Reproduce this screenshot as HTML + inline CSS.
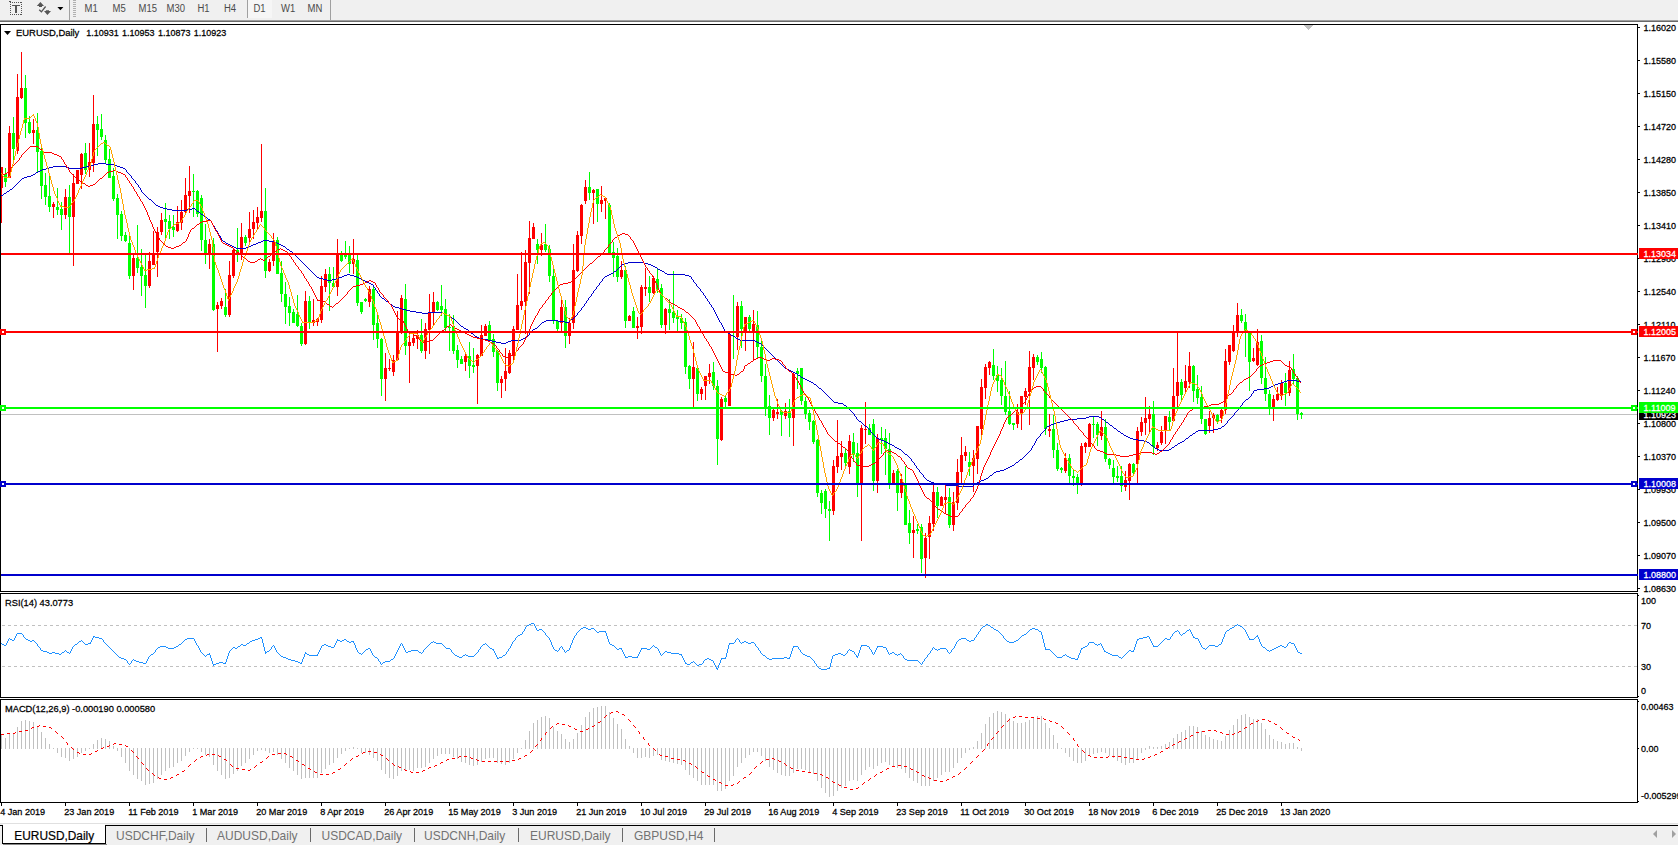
<!DOCTYPE html><html><head><meta charset="utf-8"><title>EURUSD,Daily</title>
<style>html,body{margin:0;padding:0;background:#fff;overflow:hidden}svg{display:block}text{font-family:"Liberation Sans",sans-serif;font-size:9px;fill:#000;stroke:#000;stroke-width:0.25px;paint-order:stroke}.tb{fill:#4a4a4a;stroke:none;font-size:9.5px}.tab{font-size:12px;fill:#727272;stroke:none}.ce{shape-rendering:crispEdges}</style></head><body>
<svg width="1678" height="845" viewBox="0 0 1678 845">
<rect width="1678" height="845" fill="#fff"/>
<g class="ce">
<rect x="0" y="0" width="1678" height="20" fill="#f0f0f0"/>
<rect x="0" y="20" width="1678" height="1" fill="#a0a0a0"/>
<rect x="0" y="21" width="1678" height="1" fill="#696969"/>
<rect x="0" y="22" width="1678" height="2" fill="#fff"/>
<rect x="69" y="0" width="1" height="20" fill="#a0a0a0"/>
<rect x="73" y="0" width="3" height="1" fill="#b0b0b0"/>
<rect x="73" y="2" width="3" height="1" fill="#b0b0b0"/>
<rect x="73" y="4" width="3" height="1" fill="#b0b0b0"/>
<rect x="73" y="6" width="3" height="1" fill="#b0b0b0"/>
<rect x="73" y="8" width="3" height="1" fill="#b0b0b0"/>
<rect x="73" y="10" width="3" height="1" fill="#b0b0b0"/>
<rect x="73" y="12" width="3" height="1" fill="#b0b0b0"/>
<rect x="73" y="14" width="3" height="1" fill="#b0b0b0"/>
<rect x="73" y="16" width="3" height="1" fill="#b0b0b0"/>
<rect x="247" y="0" width="1" height="18" fill="#a0a0a0"/>
<rect x="248" y="0" width="24" height="18" fill="#f6f6f6"/>
<rect x="330" y="0" width="1" height="20" fill="#a0a0a0"/>
</g>
<g fill="#555">
<rect class="ce" x="10" y="2" width="1" height="1"/>
<rect class="ce" x="10" y="14" width="1" height="1"/>
<rect class="ce" x="12" y="2" width="1" height="1"/>
<rect class="ce" x="12" y="14" width="1" height="1"/>
<rect class="ce" x="14" y="2" width="1" height="1"/>
<rect class="ce" x="14" y="14" width="1" height="1"/>
<rect class="ce" x="16" y="2" width="1" height="1"/>
<rect class="ce" x="16" y="14" width="1" height="1"/>
<rect class="ce" x="18" y="2" width="1" height="1"/>
<rect class="ce" x="18" y="14" width="1" height="1"/>
<rect class="ce" x="20" y="2" width="1" height="1"/>
<rect class="ce" x="20" y="14" width="1" height="1"/>
<rect class="ce" x="10" y="2" width="1" height="1"/>
<rect class="ce" x="21" y="2" width="1" height="1"/>
<rect class="ce" x="10" y="4" width="1" height="1"/>
<rect class="ce" x="21" y="4" width="1" height="1"/>
<rect class="ce" x="10" y="6" width="1" height="1"/>
<rect class="ce" x="21" y="6" width="1" height="1"/>
<rect class="ce" x="10" y="8" width="1" height="1"/>
<rect class="ce" x="21" y="8" width="1" height="1"/>
<rect class="ce" x="10" y="10" width="1" height="1"/>
<rect class="ce" x="21" y="10" width="1" height="1"/>
<rect class="ce" x="10" y="12" width="1" height="1"/>
<rect class="ce" x="21" y="12" width="1" height="1"/>
<rect class="ce" x="10" y="14" width="1" height="1"/>
<rect class="ce" x="21" y="14" width="1" height="1"/>
<rect class="ce" x="12" y="5" width="8" height="1"/><rect class="ce" x="15" y="5" width="2" height="8"/>
<path d="M36.8 6.1 L40.4 1.9 L44 6.1 L42 6.1 L42 7 L39 7 L39 6.1 Z"/><path d="M44 11.1 L45.9 11.1 L45.9 10.2 L49 10.2 L49 11.1 L51 11.1 L47.4 15.1 Z"/>
<rect class="ce" x="9" y="1" width="2" height="1"/>
<path d="M39.2 9.8 L41.4 11.8 L45.6 6.5" fill="none" stroke="#555" stroke-width="1.3"/>
<path d="M57.4 7 L63.4 7 L60.4 10.2 Z" fill="#000"/>
</g>
<text class="tb" transform="translate(84.5,12) scale(1,1.1)">M1</text>
<text class="tb" transform="translate(112.5,12) scale(1,1.1)">M5</text>
<text class="tb" transform="translate(138.5,12) scale(1,1.1)">M15</text>
<text class="tb" transform="translate(166.5,12) scale(1,1.1)">M30</text>
<text class="tb" transform="translate(197.5,12) scale(1,1.1)">H1</text>
<text class="tb" transform="translate(224,12) scale(1,1.1)">H4</text>
<text class="tb" transform="translate(253.5,12) scale(1,1.1)">D1</text>
<text class="tb" transform="translate(281,12) scale(1,1.1)">W1</text>
<text class="tb" transform="translate(307.5,12) scale(1,1.1)">MN</text>
<g class="ce" fill="#000">
<rect x="0" y="24" width="1638" height="1"/>
<rect x="0" y="24" width="1" height="568"/>
<rect x="0" y="591" width="1638" height="1"/>
<rect x="1637" y="24" width="1" height="568"/>
<rect x="0" y="593" width="1638" height="1"/>
<rect x="0" y="593" width="1" height="105"/>
<rect x="0" y="697" width="1638" height="1"/>
<rect x="1637" y="593" width="1" height="105"/>
<rect x="0" y="699" width="1638" height="1"/>
<rect x="0" y="699" width="1" height="104"/>
<rect x="0" y="802" width="1638" height="1"/>
<rect x="1637" y="699" width="1" height="104"/>
</g>
<g class="ce">
<rect x="1638" y="27" width="2" height="1" fill="#000"/>
<rect x="1638" y="60" width="2" height="1" fill="#000"/>
<rect x="1638" y="93" width="2" height="1" fill="#000"/>
<rect x="1638" y="126" width="2" height="1" fill="#000"/>
<rect x="1638" y="159" width="2" height="1" fill="#000"/>
<rect x="1638" y="192" width="2" height="1" fill="#000"/>
<rect x="1638" y="225" width="2" height="1" fill="#000"/>
<rect x="1638" y="258" width="2" height="1" fill="#000"/>
<rect x="1638" y="291" width="2" height="1" fill="#000"/>
<rect x="1638" y="324" width="2" height="1" fill="#000"/>
<rect x="1638" y="357" width="2" height="1" fill="#000"/>
<rect x="1638" y="390" width="2" height="1" fill="#000"/>
<rect x="1638" y="423" width="2" height="1" fill="#000"/>
<rect x="1638" y="456" width="2" height="1" fill="#000"/>
<rect x="1638" y="489" width="2" height="1" fill="#000"/>
<rect x="1638" y="522" width="2" height="1" fill="#000"/>
<rect x="1638" y="555" width="2" height="1" fill="#000"/>
<rect x="1638" y="588" width="2" height="1" fill="#000"/>
</g>
<text transform="translate(1643.6,31) scale(1,1.04)">1.16020</text>
<text transform="translate(1643.6,64) scale(1,1.04)">1.15580</text>
<text transform="translate(1643.6,97) scale(1,1.04)">1.15150</text>
<text transform="translate(1643.6,130) scale(1,1.04)">1.14720</text>
<text transform="translate(1643.6,163) scale(1,1.04)">1.14280</text>
<text transform="translate(1643.6,196) scale(1,1.04)">1.13850</text>
<text transform="translate(1643.6,229) scale(1,1.04)">1.13410</text>
<text transform="translate(1643.6,262) scale(1,1.04)">1.12980</text>
<text transform="translate(1643.6,295) scale(1,1.04)">1.12540</text>
<text transform="translate(1643.6,328) scale(1,1.04)">1.12110</text>
<text transform="translate(1643.6,361) scale(1,1.04)">1.11670</text>
<text transform="translate(1643.6,394) scale(1,1.04)">1.11240</text>
<text transform="translate(1643.6,427) scale(1,1.04)">1.10800</text>
<text transform="translate(1643.6,460) scale(1,1.04)">1.10370</text>
<text transform="translate(1643.6,493) scale(1,1.04)">1.09930</text>
<text transform="translate(1643.6,526) scale(1,1.04)">1.09500</text>
<text transform="translate(1643.6,559) scale(1,1.04)">1.09070</text>
<text transform="translate(1643.6,592) scale(1,1.04)">1.08630</text>
<g class="ce">
<rect x="1" y="803" width="1" height="3" fill="#000"/>
<rect x="65" y="803" width="1" height="3" fill="#000"/>
<rect x="129" y="803" width="1" height="3" fill="#000"/>
<rect x="193" y="803" width="1" height="3" fill="#000"/>
<rect x="257" y="803" width="1" height="3" fill="#000"/>
<rect x="321" y="803" width="1" height="3" fill="#000"/>
<rect x="385" y="803" width="1" height="3" fill="#000"/>
<rect x="449" y="803" width="1" height="3" fill="#000"/>
<rect x="513" y="803" width="1" height="3" fill="#000"/>
<rect x="577" y="803" width="1" height="3" fill="#000"/>
<rect x="641" y="803" width="1" height="3" fill="#000"/>
<rect x="705" y="803" width="1" height="3" fill="#000"/>
<rect x="769" y="803" width="1" height="3" fill="#000"/>
<rect x="833" y="803" width="1" height="3" fill="#000"/>
<rect x="897" y="803" width="1" height="3" fill="#000"/>
<rect x="961" y="803" width="1" height="3" fill="#000"/>
<rect x="1025" y="803" width="1" height="3" fill="#000"/>
<rect x="1089" y="803" width="1" height="3" fill="#000"/>
<rect x="1153" y="803" width="1" height="3" fill="#000"/>
<rect x="1217" y="803" width="1" height="3" fill="#000"/>
<rect x="1281" y="803" width="1" height="3" fill="#000"/>
</g>
<text style="font-size:9.1px" transform="translate(0.2,814.7) scale(1,1.04)">4 Jan 2019</text>
<text style="font-size:9.1px" transform="translate(64.2,814.7) scale(1,1.04)">23 Jan 2019</text>
<text style="font-size:9.1px" transform="translate(128.2,814.7) scale(1,1.04)">11 Feb 2019</text>
<text style="font-size:9.1px" transform="translate(192.2,814.7) scale(1,1.04)">1 Mar 2019</text>
<text style="font-size:9.1px" transform="translate(256.2,814.7) scale(1,1.04)">20 Mar 2019</text>
<text style="font-size:9.1px" transform="translate(320.2,814.7) scale(1,1.04)">8 Apr 2019</text>
<text style="font-size:9.1px" transform="translate(384.2,814.7) scale(1,1.04)">26 Apr 2019</text>
<text style="font-size:9.1px" transform="translate(448.2,814.7) scale(1,1.04)">15 May 2019</text>
<text style="font-size:9.1px" transform="translate(512.2,814.7) scale(1,1.04)">3 Jun 2019</text>
<text style="font-size:9.1px" transform="translate(576.2,814.7) scale(1,1.04)">21 Jun 2019</text>
<text style="font-size:9.1px" transform="translate(640.2,814.7) scale(1,1.04)">10 Jul 2019</text>
<text style="font-size:9.1px" transform="translate(704.2,814.7) scale(1,1.04)">29 Jul 2019</text>
<text style="font-size:9.1px" transform="translate(768.2,814.7) scale(1,1.04)">16 Aug 2019</text>
<text style="font-size:9.1px" transform="translate(832.2,814.7) scale(1,1.04)">4 Sep 2019</text>
<text style="font-size:9.1px" transform="translate(896.2,814.7) scale(1,1.04)">23 Sep 2019</text>
<text style="font-size:9.1px" transform="translate(960.2,814.7) scale(1,1.04)">11 Oct 2019</text>
<text style="font-size:9.1px" transform="translate(1024.2,814.7) scale(1,1.04)">30 Oct 2019</text>
<text style="font-size:9.1px" transform="translate(1088.2,814.7) scale(1,1.04)">18 Nov 2019</text>
<text style="font-size:9.1px" transform="translate(1152.2,814.7) scale(1,1.04)">6 Dec 2019</text>
<text style="font-size:9.1px" transform="translate(1216.2,814.7) scale(1,1.04)">25 Dec 2019</text>
<text style="font-size:9.1px" transform="translate(1280.2,814.7) scale(1,1.04)">13 Jan 2020</text>
<g class="ce" fill="#000">
<rect x="1638" y="595" width="1" height="1"/>
<rect x="1638" y="696" width="1" height="1"/>
<rect x="1638" y="701" width="1" height="1"/>
<rect x="1638" y="748" width="1" height="1"/>
<rect x="1638" y="801" width="1" height="1"/>
</g>
<text transform="translate(1641,604) scale(1,1.04)">100</text>
<text transform="translate(1641,629) scale(1,1.04)">70</text>
<text transform="translate(1641,670) scale(1,1.04)">30</text>
<text transform="translate(1641,694) scale(1,1.04)">0</text>
<text transform="translate(1641,710) scale(1,1.04)">0.00463</text>
<text transform="translate(1641,752) scale(1,1.04)">0.00</text>
<text transform="translate(1641,799) scale(1,1.04)">-0.005299</text>
<g class="ce">
<line x1="2" y1="625.5" x2="1637" y2="625.5" stroke="#c0c0c0" stroke-width="1" stroke-dasharray="3 3"/>
<line x1="2" y1="666.5" x2="1637" y2="666.5" stroke="#c0c0c0" stroke-width="1" stroke-dasharray="3 3"/>
</g>
<text style="font-size:9.3px" transform="translate(5,605.5) scale(1,1.04)">RSI(14) 43.0773</text>
<text style="font-size:9.3px" transform="translate(5,711.5) scale(1,1.04)">MACD(12,26,9) -0.000190 0.000580</text>
<path d="M4 31 L11 31 L7.5 35 Z" fill="#000"/>
<text style="font-size:9.42px" transform="translate(16,36) scale(1,1.04)">EURUSD,Daily</text>
<text transform="translate(86.20,36) scale(1,1.04)">1.10931</text>
<text transform="translate(122.05,36) scale(1,1.04)">1.10953</text>
<text transform="translate(157.90,36) scale(1,1.04)">1.10873</text>
<text transform="translate(193.75,36) scale(1,1.04)">1.10923</text>
<g class="ce" fill="#c0c0c0"><rect x="1304" y="25" width="9" height="1"/><rect x="1305" y="26" width="7" height="1"/><rect x="1306" y="27" width="5" height="1"/><rect x="1307" y="28" width="3" height="1"/><rect x="1308" y="29" width="1" height="1"/></g>
<defs><clipPath id="cm"><rect x="1" y="25" width="1636" height="566"/></clipPath><clipPath id="cr"><rect x="1" y="594" width="1636" height="103"/></clipPath><clipPath id="cd"><rect x="1" y="700" width="1636" height="102"/></clipPath></defs>
<g class="ce"><rect x="1" y="414" width="1636" height="1" fill="#c0c0c0"/></g>
<g class="ce" clip-path="url(#cm)"><rect x="1" y="167" width="1" height="56" fill="#ff0000"/><rect x="0" y="167" width="3" height="21" fill="#ff0000"/><rect x="5" y="168" width="1" height="19" fill="#00ff00"/><rect x="4" y="174" width="3" height="8" fill="#00ff00"/><rect x="9" y="126" width="1" height="52" fill="#ff0000"/><rect x="8" y="133" width="3" height="45" fill="#ff0000"/><rect x="13" y="117" width="1" height="46" fill="#00ff00"/><rect x="12" y="133" width="3" height="16" fill="#00ff00"/><rect x="17" y="74" width="1" height="80" fill="#ff0000"/><rect x="16" y="97" width="3" height="54" fill="#ff0000"/><rect x="21" y="52" width="1" height="47" fill="#ff0000"/><rect x="20" y="88" width="3" height="10" fill="#ff0000"/><rect x="25" y="75" width="1" height="63" fill="#00ff00"/><rect x="24" y="88" width="3" height="35" fill="#00ff00"/><rect x="29" y="116" width="1" height="18" fill="#00ff00"/><rect x="28" y="122" width="3" height="11" fill="#00ff00"/><rect x="33" y="119" width="1" height="25" fill="#ff0000"/><rect x="32" y="130" width="3" height="3" fill="#ff0000"/><rect x="37" y="113" width="1" height="59" fill="#00ff00"/><rect x="36" y="130" width="3" height="22" fill="#00ff00"/><rect x="41" y="148" width="1" height="51" fill="#00ff00"/><rect x="40" y="151" width="3" height="35" fill="#00ff00"/><rect x="45" y="173" width="1" height="32" fill="#00ff00"/><rect x="44" y="185" width="3" height="12" fill="#00ff00"/><rect x="49" y="176" width="1" height="36" fill="#00ff00"/><rect x="48" y="196" width="3" height="11" fill="#00ff00"/><rect x="53" y="202" width="1" height="16" fill="#ff0000"/><rect x="52" y="204" width="3" height="3" fill="#ff0000"/><rect x="57" y="188" width="1" height="27" fill="#00ff00"/><rect x="56" y="207" width="3" height="3" fill="#00ff00"/><rect x="61" y="202" width="1" height="28" fill="#00ff00"/><rect x="60" y="209" width="3" height="6" fill="#00ff00"/><rect x="65" y="189" width="1" height="30" fill="#ff0000"/><rect x="64" y="197" width="3" height="18" fill="#ff0000"/><rect x="69" y="185" width="1" height="68" fill="#00ff00"/><rect x="68" y="197" width="3" height="20" fill="#00ff00"/><rect x="73" y="174" width="1" height="92" fill="#ff0000"/><rect x="72" y="183" width="3" height="34" fill="#ff0000"/><rect x="77" y="170" width="1" height="14" fill="#ff0000"/><rect x="76" y="170" width="3" height="14" fill="#ff0000"/><rect x="81" y="153" width="1" height="36" fill="#ff0000"/><rect x="80" y="154" width="3" height="21" fill="#ff0000"/><rect x="85" y="143" width="1" height="31" fill="#00ff00"/><rect x="84" y="153" width="3" height="17" fill="#00ff00"/><rect x="89" y="143" width="1" height="34" fill="#ff0000"/><rect x="88" y="162" width="3" height="8" fill="#ff0000"/><rect x="93" y="95" width="1" height="77" fill="#ff0000"/><rect x="92" y="124" width="3" height="39" fill="#ff0000"/><rect x="97" y="116" width="1" height="40" fill="#00ff00"/><rect x="96" y="124" width="3" height="6" fill="#00ff00"/><rect x="101" y="114" width="1" height="26" fill="#00ff00"/><rect x="100" y="129" width="3" height="8" fill="#00ff00"/><rect x="105" y="135" width="1" height="28" fill="#00ff00"/><rect x="104" y="140" width="3" height="20" fill="#00ff00"/><rect x="109" y="149" width="1" height="29" fill="#00ff00"/><rect x="108" y="159" width="3" height="19" fill="#00ff00"/><rect x="113" y="168" width="1" height="33" fill="#00ff00"/><rect x="112" y="176" width="3" height="23" fill="#00ff00"/><rect x="117" y="194" width="1" height="45" fill="#00ff00"/><rect x="116" y="198" width="3" height="17" fill="#00ff00"/><rect x="121" y="211" width="1" height="30" fill="#00ff00"/><rect x="120" y="214" width="3" height="22" fill="#00ff00"/><rect x="125" y="232" width="1" height="10" fill="#00ff00"/><rect x="124" y="235" width="3" height="6" fill="#00ff00"/><rect x="129" y="235" width="1" height="44" fill="#00ff00"/><rect x="128" y="243" width="3" height="33" fill="#00ff00"/><rect x="133" y="254" width="1" height="36" fill="#ff0000"/><rect x="132" y="258" width="3" height="18" fill="#ff0000"/><rect x="137" y="225" width="1" height="48" fill="#00ff00"/><rect x="136" y="258" width="3" height="10" fill="#00ff00"/><rect x="141" y="249" width="1" height="47" fill="#00ff00"/><rect x="140" y="267" width="3" height="9" fill="#00ff00"/><rect x="145" y="255" width="1" height="53" fill="#00ff00"/><rect x="144" y="275" width="3" height="11" fill="#00ff00"/><rect x="149" y="252" width="1" height="36" fill="#ff0000"/><rect x="148" y="261" width="3" height="25" fill="#ff0000"/><rect x="153" y="231" width="1" height="34" fill="#ff0000"/><rect x="152" y="253" width="3" height="12" fill="#ff0000"/><rect x="157" y="227" width="1" height="50" fill="#ff0000"/><rect x="156" y="232" width="3" height="20" fill="#ff0000"/><rect x="161" y="213" width="1" height="22" fill="#ff0000"/><rect x="160" y="220" width="3" height="12" fill="#ff0000"/><rect x="165" y="203" width="1" height="36" fill="#00ff00"/><rect x="164" y="219" width="3" height="3" fill="#00ff00"/><rect x="169" y="215" width="1" height="24" fill="#00ff00"/><rect x="168" y="221" width="3" height="8" fill="#00ff00"/><rect x="173" y="215" width="1" height="22" fill="#00ff00"/><rect x="172" y="227" width="3" height="3" fill="#00ff00"/><rect x="177" y="206" width="1" height="26" fill="#ff0000"/><rect x="176" y="222" width="3" height="9" fill="#ff0000"/><rect x="181" y="200" width="1" height="30" fill="#ff0000"/><rect x="180" y="212" width="3" height="11" fill="#ff0000"/><rect x="185" y="178" width="1" height="36" fill="#ff0000"/><rect x="184" y="195" width="3" height="17" fill="#ff0000"/><rect x="189" y="166" width="1" height="47" fill="#ff0000"/><rect x="188" y="191" width="3" height="5" fill="#ff0000"/><rect x="193" y="174" width="1" height="43" fill="#00ff00"/><rect x="192" y="191" width="3" height="1" fill="#00ff00"/><rect x="197" y="190" width="1" height="27" fill="#00ff00"/><rect x="196" y="191" width="3" height="23" fill="#00ff00"/><rect x="201" y="195" width="1" height="56" fill="#00ff00"/><rect x="200" y="198" width="3" height="42" fill="#00ff00"/><rect x="205" y="224" width="1" height="40" fill="#00ff00"/><rect x="204" y="240" width="3" height="13" fill="#00ff00"/><rect x="209" y="239" width="1" height="30" fill="#ff0000"/><rect x="208" y="244" width="3" height="10" fill="#ff0000"/><rect x="213" y="238" width="1" height="73" fill="#00ff00"/><rect x="212" y="244" width="3" height="66" fill="#00ff00"/><rect x="217" y="302" width="1" height="50" fill="#ff0000"/><rect x="216" y="305" width="3" height="4" fill="#ff0000"/><rect x="221" y="298" width="1" height="11" fill="#ff0000"/><rect x="220" y="301" width="3" height="5" fill="#ff0000"/><rect x="225" y="289" width="1" height="28" fill="#00ff00"/><rect x="224" y="307" width="3" height="8" fill="#00ff00"/><rect x="229" y="261" width="1" height="56" fill="#ff0000"/><rect x="228" y="275" width="3" height="40" fill="#ff0000"/><rect x="233" y="248" width="1" height="30" fill="#ff0000"/><rect x="232" y="250" width="3" height="26" fill="#ff0000"/><rect x="237" y="228" width="1" height="34" fill="#00ff00"/><rect x="236" y="250" width="3" height="3" fill="#00ff00"/><rect x="241" y="223" width="1" height="37" fill="#ff0000"/><rect x="240" y="237" width="3" height="16" fill="#ff0000"/><rect x="245" y="235" width="1" height="11" fill="#00ff00"/><rect x="244" y="237" width="3" height="6" fill="#00ff00"/><rect x="249" y="212" width="1" height="31" fill="#ff0000"/><rect x="248" y="229" width="3" height="9" fill="#ff0000"/><rect x="253" y="210" width="1" height="29" fill="#ff0000"/><rect x="252" y="222" width="3" height="7" fill="#ff0000"/><rect x="257" y="207" width="1" height="22" fill="#ff0000"/><rect x="256" y="217" width="3" height="6" fill="#ff0000"/><rect x="261" y="144" width="1" height="78" fill="#ff0000"/><rect x="260" y="211" width="3" height="7" fill="#ff0000"/><rect x="265" y="188" width="1" height="90" fill="#00ff00"/><rect x="264" y="211" width="3" height="60" fill="#00ff00"/><rect x="269" y="259" width="1" height="13" fill="#ff0000"/><rect x="268" y="262" width="3" height="9" fill="#ff0000"/><rect x="273" y="233" width="1" height="33" fill="#ff0000"/><rect x="272" y="241" width="3" height="20" fill="#ff0000"/><rect x="277" y="237" width="1" height="37" fill="#00ff00"/><rect x="276" y="240" width="3" height="34" fill="#00ff00"/><rect x="281" y="261" width="1" height="41" fill="#00ff00"/><rect x="280" y="273" width="3" height="21" fill="#00ff00"/><rect x="285" y="282" width="1" height="42" fill="#00ff00"/><rect x="284" y="294" width="3" height="13" fill="#00ff00"/><rect x="289" y="297" width="1" height="29" fill="#00ff00"/><rect x="288" y="306" width="3" height="7" fill="#00ff00"/><rect x="293" y="309" width="1" height="14" fill="#00ff00"/><rect x="292" y="312" width="3" height="11" fill="#00ff00"/><rect x="297" y="295" width="1" height="32" fill="#00ff00"/><rect x="296" y="314" width="3" height="12" fill="#00ff00"/><rect x="301" y="323" width="1" height="23" fill="#00ff00"/><rect x="300" y="326" width="3" height="18" fill="#00ff00"/><rect x="305" y="291" width="1" height="54" fill="#ff0000"/><rect x="304" y="301" width="3" height="43" fill="#ff0000"/><rect x="309" y="296" width="1" height="33" fill="#00ff00"/><rect x="308" y="301" width="3" height="21" fill="#00ff00"/><rect x="313" y="299" width="1" height="27" fill="#ff0000"/><rect x="312" y="320" width="3" height="3" fill="#ff0000"/><rect x="317" y="318" width="1" height="8" fill="#ff0000"/><rect x="316" y="319" width="3" height="3" fill="#ff0000"/><rect x="321" y="276" width="1" height="47" fill="#ff0000"/><rect x="320" y="286" width="3" height="34" fill="#ff0000"/><rect x="325" y="269" width="1" height="23" fill="#ff0000"/><rect x="324" y="274" width="3" height="13" fill="#ff0000"/><rect x="329" y="267" width="1" height="44" fill="#00ff00"/><rect x="328" y="274" width="3" height="9" fill="#00ff00"/><rect x="333" y="267" width="1" height="21" fill="#00ff00"/><rect x="332" y="283" width="3" height="4" fill="#00ff00"/><rect x="337" y="239" width="1" height="57" fill="#ff0000"/><rect x="336" y="254" width="3" height="33" fill="#ff0000"/><rect x="341" y="251" width="1" height="11" fill="#00ff00"/><rect x="340" y="255" width="3" height="6" fill="#00ff00"/><rect x="345" y="241" width="1" height="18" fill="#00ff00"/><rect x="344" y="255" width="3" height="2" fill="#00ff00"/><rect x="349" y="246" width="1" height="27" fill="#00ff00"/><rect x="348" y="255" width="3" height="9" fill="#00ff00"/><rect x="353" y="239" width="1" height="35" fill="#ff0000"/><rect x="352" y="259" width="3" height="5" fill="#ff0000"/><rect x="357" y="255" width="1" height="51" fill="#00ff00"/><rect x="356" y="260" width="3" height="43" fill="#00ff00"/><rect x="361" y="302" width="1" height="12" fill="#00ff00"/><rect x="360" y="302" width="3" height="10" fill="#00ff00"/><rect x="365" y="298" width="1" height="4" fill="#00ff00"/><rect x="364" y="299" width="3" height="2" fill="#00ff00"/><rect x="369" y="286" width="1" height="21" fill="#ff0000"/><rect x="368" y="289" width="3" height="13" fill="#ff0000"/><rect x="373" y="287" width="1" height="53" fill="#00ff00"/><rect x="372" y="289" width="3" height="36" fill="#00ff00"/><rect x="377" y="314" width="1" height="34" fill="#00ff00"/><rect x="376" y="323" width="3" height="16" fill="#00ff00"/><rect x="381" y="338" width="1" height="58" fill="#00ff00"/><rect x="380" y="339" width="3" height="40" fill="#00ff00"/><rect x="385" y="353" width="1" height="48" fill="#ff0000"/><rect x="384" y="368" width="3" height="11" fill="#ff0000"/><rect x="389" y="359" width="1" height="12" fill="#ff0000"/><rect x="388" y="368" width="3" height="1" fill="#ff0000"/><rect x="393" y="355" width="1" height="21" fill="#ff0000"/><rect x="392" y="360" width="3" height="12" fill="#ff0000"/><rect x="397" y="311" width="1" height="49" fill="#ff0000"/><rect x="396" y="333" width="3" height="27" fill="#ff0000"/><rect x="401" y="295" width="1" height="39" fill="#ff0000"/><rect x="400" y="298" width="3" height="33" fill="#ff0000"/><rect x="405" y="284" width="1" height="71" fill="#00ff00"/><rect x="404" y="299" width="3" height="47" fill="#00ff00"/><rect x="409" y="333" width="1" height="50" fill="#ff0000"/><rect x="408" y="342" width="3" height="4" fill="#ff0000"/><rect x="413" y="333" width="1" height="13" fill="#ff0000"/><rect x="412" y="338" width="3" height="5" fill="#ff0000"/><rect x="417" y="330" width="1" height="19" fill="#ff0000"/><rect x="416" y="335" width="3" height="4" fill="#ff0000"/><rect x="421" y="319" width="1" height="34" fill="#00ff00"/><rect x="420" y="335" width="3" height="16" fill="#00ff00"/><rect x="425" y="323" width="1" height="36" fill="#ff0000"/><rect x="424" y="329" width="3" height="22" fill="#ff0000"/><rect x="429" y="294" width="1" height="60" fill="#ff0000"/><rect x="428" y="313" width="3" height="17" fill="#ff0000"/><rect x="433" y="292" width="1" height="33" fill="#ff0000"/><rect x="432" y="302" width="3" height="11" fill="#ff0000"/><rect x="437" y="301" width="1" height="10" fill="#00ff00"/><rect x="436" y="302" width="3" height="8" fill="#00ff00"/><rect x="441" y="285" width="1" height="31" fill="#00ff00"/><rect x="440" y="306" width="3" height="4" fill="#00ff00"/><rect x="445" y="299" width="1" height="32" fill="#00ff00"/><rect x="444" y="309" width="3" height="19" fill="#00ff00"/><rect x="449" y="314" width="1" height="37" fill="#00ff00"/><rect x="448" y="327" width="3" height="1" fill="#00ff00"/><rect x="453" y="315" width="1" height="39" fill="#00ff00"/><rect x="452" y="326" width="3" height="25" fill="#00ff00"/><rect x="457" y="345" width="1" height="23" fill="#00ff00"/><rect x="456" y="350" width="3" height="10" fill="#00ff00"/><rect x="461" y="356" width="1" height="8" fill="#00ff00"/><rect x="460" y="359" width="3" height="5" fill="#00ff00"/><rect x="465" y="353" width="1" height="18" fill="#ff0000"/><rect x="464" y="356" width="3" height="6" fill="#ff0000"/><rect x="469" y="342" width="1" height="36" fill="#00ff00"/><rect x="468" y="356" width="3" height="10" fill="#00ff00"/><rect x="473" y="348" width="1" height="25" fill="#00ff00"/><rect x="472" y="365" width="3" height="2" fill="#00ff00"/><rect x="477" y="354" width="1" height="50" fill="#ff0000"/><rect x="476" y="355" width="3" height="11" fill="#ff0000"/><rect x="481" y="325" width="1" height="31" fill="#ff0000"/><rect x="480" y="335" width="3" height="21" fill="#ff0000"/><rect x="485" y="324" width="1" height="12" fill="#ff0000"/><rect x="484" y="326" width="3" height="10" fill="#ff0000"/><rect x="489" y="321" width="1" height="20" fill="#00ff00"/><rect x="488" y="325" width="3" height="16" fill="#00ff00"/><rect x="493" y="334" width="1" height="23" fill="#00ff00"/><rect x="492" y="339" width="3" height="13" fill="#00ff00"/><rect x="497" y="350" width="1" height="41" fill="#00ff00"/><rect x="496" y="351" width="3" height="32" fill="#00ff00"/><rect x="501" y="376" width="1" height="22" fill="#ff0000"/><rect x="500" y="379" width="3" height="4" fill="#ff0000"/><rect x="505" y="348" width="1" height="43" fill="#ff0000"/><rect x="504" y="371" width="3" height="8" fill="#ff0000"/><rect x="509" y="350" width="1" height="24" fill="#ff0000"/><rect x="508" y="353" width="3" height="20" fill="#ff0000"/><rect x="513" y="326" width="1" height="37" fill="#ff0000"/><rect x="512" y="329" width="3" height="27" fill="#ff0000"/><rect x="517" y="274" width="1" height="56" fill="#ff0000"/><rect x="516" y="305" width="3" height="25" fill="#ff0000"/><rect x="521" y="252" width="1" height="58" fill="#ff0000"/><rect x="520" y="301" width="3" height="5" fill="#ff0000"/><rect x="525" y="250" width="1" height="84" fill="#ff0000"/><rect x="524" y="262" width="3" height="40" fill="#ff0000"/><rect x="529" y="221" width="1" height="73" fill="#ff0000"/><rect x="528" y="238" width="3" height="25" fill="#ff0000"/><rect x="533" y="223" width="1" height="16" fill="#ff0000"/><rect x="532" y="227" width="3" height="12" fill="#ff0000"/><rect x="537" y="239" width="1" height="25" fill="#00ff00"/><rect x="536" y="244" width="3" height="6" fill="#00ff00"/><rect x="541" y="233" width="1" height="23" fill="#ff0000"/><rect x="540" y="245" width="3" height="5" fill="#ff0000"/><rect x="545" y="224" width="1" height="28" fill="#00ff00"/><rect x="544" y="244" width="3" height="6" fill="#00ff00"/><rect x="549" y="245" width="1" height="37" fill="#00ff00"/><rect x="548" y="249" width="3" height="27" fill="#00ff00"/><rect x="553" y="265" width="1" height="59" fill="#00ff00"/><rect x="552" y="276" width="3" height="45" fill="#00ff00"/><rect x="557" y="320" width="1" height="11" fill="#00ff00"/><rect x="556" y="321" width="3" height="8" fill="#00ff00"/><rect x="561" y="299" width="1" height="32" fill="#ff0000"/><rect x="560" y="307" width="3" height="16" fill="#ff0000"/><rect x="565" y="300" width="1" height="48" fill="#00ff00"/><rect x="564" y="307" width="3" height="29" fill="#00ff00"/><rect x="569" y="318" width="1" height="26" fill="#ff0000"/><rect x="568" y="323" width="3" height="13" fill="#ff0000"/><rect x="573" y="244" width="1" height="85" fill="#ff0000"/><rect x="572" y="270" width="3" height="53" fill="#ff0000"/><rect x="577" y="231" width="1" height="41" fill="#ff0000"/><rect x="576" y="235" width="3" height="36" fill="#ff0000"/><rect x="581" y="204" width="1" height="40" fill="#ff0000"/><rect x="580" y="205" width="3" height="31" fill="#ff0000"/><rect x="585" y="180" width="1" height="24" fill="#ff0000"/><rect x="584" y="187" width="3" height="14" fill="#ff0000"/><rect x="589" y="172" width="1" height="28" fill="#00ff00"/><rect x="588" y="187" width="3" height="6" fill="#00ff00"/><rect x="593" y="189" width="1" height="35" fill="#ff0000"/><rect x="592" y="190" width="3" height="3" fill="#ff0000"/><rect x="597" y="189" width="1" height="33" fill="#00ff00"/><rect x="596" y="189" width="3" height="15" fill="#00ff00"/><rect x="601" y="186" width="1" height="26" fill="#ff0000"/><rect x="600" y="200" width="3" height="4" fill="#ff0000"/><rect x="605" y="198" width="1" height="21" fill="#ff0000"/><rect x="604" y="198" width="3" height="3" fill="#ff0000"/><rect x="609" y="203" width="1" height="50" fill="#00ff00"/><rect x="608" y="205" width="3" height="48" fill="#00ff00"/><rect x="613" y="242" width="1" height="35" fill="#00ff00"/><rect x="612" y="252" width="3" height="6" fill="#00ff00"/><rect x="617" y="248" width="1" height="34" fill="#00ff00"/><rect x="616" y="256" width="3" height="21" fill="#00ff00"/><rect x="621" y="261" width="1" height="18" fill="#ff0000"/><rect x="620" y="270" width="3" height="7" fill="#ff0000"/><rect x="625" y="266" width="1" height="62" fill="#00ff00"/><rect x="624" y="270" width="3" height="51" fill="#00ff00"/><rect x="629" y="315" width="1" height="6" fill="#ff0000"/><rect x="628" y="316" width="3" height="5" fill="#ff0000"/><rect x="633" y="307" width="1" height="21" fill="#00ff00"/><rect x="632" y="311" width="3" height="17" fill="#00ff00"/><rect x="637" y="317" width="1" height="22" fill="#ff0000"/><rect x="636" y="326" width="3" height="2" fill="#ff0000"/><rect x="641" y="285" width="1" height="49" fill="#ff0000"/><rect x="640" y="287" width="3" height="40" fill="#ff0000"/><rect x="645" y="268" width="1" height="28" fill="#ff0000"/><rect x="644" y="287" width="3" height="2" fill="#ff0000"/><rect x="649" y="276" width="1" height="26" fill="#00ff00"/><rect x="648" y="287" width="3" height="6" fill="#00ff00"/><rect x="653" y="276" width="1" height="18" fill="#ff0000"/><rect x="652" y="278" width="3" height="15" fill="#ff0000"/><rect x="657" y="269" width="1" height="24" fill="#00ff00"/><rect x="656" y="279" width="3" height="10" fill="#00ff00"/><rect x="661" y="284" width="1" height="44" fill="#00ff00"/><rect x="660" y="288" width="3" height="37" fill="#00ff00"/><rect x="665" y="308" width="1" height="26" fill="#ff0000"/><rect x="664" y="309" width="3" height="16" fill="#ff0000"/><rect x="669" y="299" width="1" height="31" fill="#00ff00"/><rect x="668" y="309" width="3" height="4" fill="#00ff00"/><rect x="673" y="271" width="1" height="52" fill="#00ff00"/><rect x="672" y="312" width="3" height="6" fill="#00ff00"/><rect x="677" y="310" width="1" height="21" fill="#00ff00"/><rect x="676" y="316" width="3" height="3" fill="#00ff00"/><rect x="681" y="314" width="1" height="15" fill="#00ff00"/><rect x="680" y="318" width="3" height="5" fill="#00ff00"/><rect x="685" y="318" width="1" height="56" fill="#00ff00"/><rect x="684" y="322" width="3" height="45" fill="#00ff00"/><rect x="689" y="365" width="1" height="24" fill="#00ff00"/><rect x="688" y="366" width="3" height="13" fill="#00ff00"/><rect x="693" y="342" width="1" height="65" fill="#ff0000"/><rect x="692" y="367" width="3" height="12" fill="#ff0000"/><rect x="697" y="366" width="1" height="35" fill="#00ff00"/><rect x="696" y="368" width="3" height="26" fill="#00ff00"/><rect x="701" y="387" width="1" height="13" fill="#ff0000"/><rect x="700" y="389" width="3" height="5" fill="#ff0000"/><rect x="705" y="376" width="1" height="24" fill="#ff0000"/><rect x="704" y="376" width="3" height="10" fill="#ff0000"/><rect x="709" y="364" width="1" height="20" fill="#ff0000"/><rect x="708" y="373" width="3" height="4" fill="#ff0000"/><rect x="713" y="362" width="1" height="28" fill="#00ff00"/><rect x="712" y="372" width="3" height="14" fill="#00ff00"/><rect x="717" y="380" width="1" height="85" fill="#00ff00"/><rect x="716" y="386" width="3" height="53" fill="#00ff00"/><rect x="721" y="397" width="1" height="44" fill="#ff0000"/><rect x="720" y="399" width="3" height="41" fill="#ff0000"/><rect x="725" y="396" width="1" height="11" fill="#00ff00"/><rect x="724" y="398" width="3" height="4" fill="#00ff00"/><rect x="729" y="333" width="1" height="73" fill="#ff0000"/><rect x="728" y="334" width="3" height="72" fill="#ff0000"/><rect x="733" y="295" width="1" height="64" fill="#00ff00"/><rect x="732" y="331" width="3" height="2" fill="#00ff00"/><rect x="737" y="302" width="1" height="48" fill="#ff0000"/><rect x="736" y="306" width="3" height="31" fill="#ff0000"/><rect x="741" y="301" width="1" height="47" fill="#00ff00"/><rect x="740" y="306" width="3" height="23" fill="#00ff00"/><rect x="745" y="317" width="1" height="34" fill="#ff0000"/><rect x="744" y="317" width="3" height="14" fill="#ff0000"/><rect x="749" y="315" width="1" height="16" fill="#00ff00"/><rect x="748" y="317" width="3" height="12" fill="#00ff00"/><rect x="753" y="310" width="1" height="50" fill="#ff0000"/><rect x="752" y="324" width="3" height="7" fill="#ff0000"/><rect x="757" y="311" width="1" height="47" fill="#00ff00"/><rect x="756" y="325" width="3" height="22" fill="#00ff00"/><rect x="761" y="341" width="1" height="41" fill="#00ff00"/><rect x="760" y="347" width="3" height="29" fill="#00ff00"/><rect x="765" y="364" width="1" height="52" fill="#00ff00"/><rect x="764" y="376" width="3" height="32" fill="#00ff00"/><rect x="769" y="395" width="1" height="40" fill="#00ff00"/><rect x="768" y="406" width="3" height="12" fill="#00ff00"/><rect x="773" y="409" width="1" height="12" fill="#ff0000"/><rect x="772" y="410" width="3" height="8" fill="#ff0000"/><rect x="777" y="399" width="1" height="20" fill="#ff0000"/><rect x="776" y="412" width="3" height="2" fill="#ff0000"/><rect x="781" y="410" width="1" height="26" fill="#00ff00"/><rect x="780" y="411" width="3" height="4" fill="#00ff00"/><rect x="785" y="403" width="1" height="16" fill="#ff0000"/><rect x="784" y="411" width="3" height="5" fill="#ff0000"/><rect x="789" y="399" width="1" height="38" fill="#00ff00"/><rect x="788" y="411" width="3" height="7" fill="#00ff00"/><rect x="793" y="373" width="1" height="73" fill="#ff0000"/><rect x="792" y="374" width="3" height="44" fill="#ff0000"/><rect x="797" y="368" width="1" height="21" fill="#00ff00"/><rect x="796" y="371" width="3" height="3" fill="#00ff00"/><rect x="801" y="368" width="1" height="37" fill="#00ff00"/><rect x="800" y="368" width="3" height="33" fill="#00ff00"/><rect x="805" y="397" width="1" height="22" fill="#00ff00"/><rect x="804" y="401" width="3" height="13" fill="#00ff00"/><rect x="809" y="410" width="1" height="20" fill="#00ff00"/><rect x="808" y="413" width="3" height="9" fill="#00ff00"/><rect x="813" y="420" width="1" height="24" fill="#00ff00"/><rect x="812" y="421" width="3" height="21" fill="#00ff00"/><rect x="817" y="439" width="1" height="58" fill="#00ff00"/><rect x="816" y="440" width="3" height="53" fill="#00ff00"/><rect x="821" y="490" width="1" height="24" fill="#00ff00"/><rect x="820" y="493" width="3" height="10" fill="#00ff00"/><rect x="825" y="489" width="1" height="29" fill="#00ff00"/><rect x="824" y="491" width="3" height="18" fill="#00ff00"/><rect x="829" y="501" width="1" height="40" fill="#00ff00"/><rect x="828" y="509" width="3" height="2" fill="#00ff00"/><rect x="833" y="460" width="1" height="55" fill="#ff0000"/><rect x="832" y="466" width="3" height="45" fill="#ff0000"/><rect x="837" y="420" width="1" height="53" fill="#ff0000"/><rect x="836" y="456" width="3" height="11" fill="#ff0000"/><rect x="841" y="441" width="1" height="29" fill="#ff0000"/><rect x="840" y="453" width="3" height="4" fill="#ff0000"/><rect x="845" y="449" width="1" height="18" fill="#00ff00"/><rect x="844" y="453" width="3" height="10" fill="#00ff00"/><rect x="849" y="435" width="1" height="39" fill="#ff0000"/><rect x="848" y="441" width="3" height="26" fill="#ff0000"/><rect x="853" y="433" width="1" height="29" fill="#00ff00"/><rect x="852" y="442" width="3" height="12" fill="#00ff00"/><rect x="857" y="443" width="1" height="54" fill="#00ff00"/><rect x="856" y="453" width="3" height="30" fill="#00ff00"/><rect x="861" y="425" width="1" height="116" fill="#ff0000"/><rect x="860" y="428" width="3" height="55" fill="#ff0000"/><rect x="865" y="402" width="1" height="42" fill="#ff0000"/><rect x="864" y="429" width="3" height="1" fill="#ff0000"/><rect x="869" y="424" width="1" height="11" fill="#00ff00"/><rect x="868" y="428" width="3" height="7" fill="#00ff00"/><rect x="873" y="419" width="1" height="72" fill="#00ff00"/><rect x="872" y="424" width="3" height="57" fill="#00ff00"/><rect x="877" y="434" width="1" height="59" fill="#ff0000"/><rect x="876" y="438" width="3" height="43" fill="#ff0000"/><rect x="881" y="427" width="1" height="27" fill="#00ff00"/><rect x="880" y="438" width="3" height="2" fill="#00ff00"/><rect x="885" y="429" width="1" height="46" fill="#00ff00"/><rect x="884" y="438" width="3" height="11" fill="#00ff00"/><rect x="889" y="433" width="1" height="56" fill="#00ff00"/><rect x="888" y="449" width="3" height="34" fill="#00ff00"/><rect x="893" y="470" width="1" height="13" fill="#ff0000"/><rect x="892" y="473" width="3" height="10" fill="#ff0000"/><rect x="897" y="469" width="1" height="42" fill="#00ff00"/><rect x="896" y="471" width="3" height="22" fill="#00ff00"/><rect x="901" y="474" width="1" height="24" fill="#ff0000"/><rect x="900" y="479" width="3" height="14" fill="#ff0000"/><rect x="905" y="466" width="1" height="59" fill="#00ff00"/><rect x="904" y="483" width="3" height="42" fill="#00ff00"/><rect x="909" y="510" width="1" height="34" fill="#00ff00"/><rect x="908" y="523" width="3" height="10" fill="#00ff00"/><rect x="913" y="516" width="1" height="42" fill="#ff0000"/><rect x="912" y="530" width="3" height="3" fill="#ff0000"/><rect x="917" y="524" width="1" height="10" fill="#00ff00"/><rect x="916" y="529" width="3" height="2" fill="#00ff00"/><rect x="921" y="524" width="1" height="49" fill="#00ff00"/><rect x="920" y="527" width="3" height="32" fill="#00ff00"/><rect x="925" y="533" width="1" height="45" fill="#ff0000"/><rect x="924" y="538" width="3" height="20" fill="#ff0000"/><rect x="929" y="516" width="1" height="43" fill="#ff0000"/><rect x="928" y="523" width="3" height="14" fill="#ff0000"/><rect x="933" y="484" width="1" height="47" fill="#ff0000"/><rect x="932" y="492" width="3" height="32" fill="#ff0000"/><rect x="937" y="487" width="1" height="31" fill="#00ff00"/><rect x="936" y="492" width="3" height="14" fill="#00ff00"/><rect x="941" y="496" width="1" height="10" fill="#ff0000"/><rect x="940" y="497" width="3" height="9" fill="#ff0000"/><rect x="945" y="484" width="1" height="30" fill="#ff0000"/><rect x="944" y="497" width="3" height="3" fill="#ff0000"/><rect x="949" y="488" width="1" height="40" fill="#00ff00"/><rect x="948" y="497" width="3" height="28" fill="#00ff00"/><rect x="953" y="492" width="1" height="39" fill="#ff0000"/><rect x="952" y="502" width="3" height="23" fill="#ff0000"/><rect x="957" y="459" width="1" height="51" fill="#ff0000"/><rect x="956" y="472" width="3" height="31" fill="#ff0000"/><rect x="961" y="437" width="1" height="46" fill="#ff0000"/><rect x="960" y="455" width="3" height="17" fill="#ff0000"/><rect x="965" y="446" width="1" height="15" fill="#ff0000"/><rect x="964" y="452" width="3" height="4" fill="#ff0000"/><rect x="969" y="452" width="1" height="24" fill="#00ff00"/><rect x="968" y="462" width="3" height="5" fill="#00ff00"/><rect x="973" y="450" width="1" height="42" fill="#ff0000"/><rect x="972" y="458" width="3" height="8" fill="#ff0000"/><rect x="977" y="426" width="1" height="48" fill="#ff0000"/><rect x="976" y="426" width="3" height="33" fill="#ff0000"/><rect x="981" y="379" width="1" height="57" fill="#ff0000"/><rect x="980" y="387" width="3" height="42" fill="#ff0000"/><rect x="985" y="364" width="1" height="35" fill="#ff0000"/><rect x="984" y="367" width="3" height="21" fill="#ff0000"/><rect x="989" y="361" width="1" height="14" fill="#ff0000"/><rect x="988" y="362" width="3" height="6" fill="#ff0000"/><rect x="993" y="349" width="1" height="31" fill="#00ff00"/><rect x="992" y="365" width="3" height="11" fill="#00ff00"/><rect x="997" y="366" width="1" height="26" fill="#00ff00"/><rect x="996" y="375" width="3" height="6" fill="#00ff00"/><rect x="1001" y="368" width="1" height="37" fill="#00ff00"/><rect x="1000" y="380" width="3" height="16" fill="#00ff00"/><rect x="1005" y="361" width="1" height="54" fill="#00ff00"/><rect x="1004" y="396" width="3" height="16" fill="#00ff00"/><rect x="1009" y="391" width="1" height="34" fill="#00ff00"/><rect x="1008" y="411" width="3" height="13" fill="#00ff00"/><rect x="1013" y="423" width="1" height="7" fill="#00ff00"/><rect x="1012" y="423" width="3" height="2" fill="#00ff00"/><rect x="1017" y="404" width="1" height="24" fill="#ff0000"/><rect x="1016" y="412" width="3" height="12" fill="#ff0000"/><rect x="1021" y="396" width="1" height="34" fill="#ff0000"/><rect x="1020" y="396" width="3" height="18" fill="#ff0000"/><rect x="1025" y="388" width="1" height="17" fill="#ff0000"/><rect x="1024" y="391" width="3" height="6" fill="#ff0000"/><rect x="1029" y="351" width="1" height="74" fill="#ff0000"/><rect x="1028" y="367" width="3" height="25" fill="#ff0000"/><rect x="1033" y="354" width="1" height="26" fill="#ff0000"/><rect x="1032" y="357" width="3" height="11" fill="#ff0000"/><rect x="1037" y="355" width="1" height="10" fill="#00ff00"/><rect x="1036" y="357" width="3" height="5" fill="#00ff00"/><rect x="1041" y="352" width="1" height="21" fill="#00ff00"/><rect x="1040" y="359" width="3" height="9" fill="#00ff00"/><rect x="1045" y="366" width="1" height="69" fill="#00ff00"/><rect x="1044" y="367" width="3" height="62" fill="#00ff00"/><rect x="1049" y="414" width="1" height="23" fill="#ff0000"/><rect x="1048" y="429" width="3" height="2" fill="#ff0000"/><rect x="1053" y="415" width="1" height="43" fill="#00ff00"/><rect x="1052" y="429" width="3" height="21" fill="#00ff00"/><rect x="1057" y="443" width="1" height="28" fill="#00ff00"/><rect x="1056" y="450" width="3" height="19" fill="#00ff00"/><rect x="1061" y="467" width="1" height="6" fill="#00ff00"/><rect x="1060" y="468" width="3" height="2" fill="#00ff00"/><rect x="1065" y="453" width="1" height="20" fill="#ff0000"/><rect x="1064" y="458" width="3" height="13" fill="#ff0000"/><rect x="1069" y="454" width="1" height="30" fill="#00ff00"/><rect x="1068" y="458" width="3" height="18" fill="#00ff00"/><rect x="1073" y="469" width="1" height="17" fill="#00ff00"/><rect x="1072" y="476" width="3" height="2" fill="#00ff00"/><rect x="1077" y="474" width="1" height="20" fill="#00ff00"/><rect x="1076" y="477" width="3" height="7" fill="#00ff00"/><rect x="1081" y="443" width="1" height="43" fill="#ff0000"/><rect x="1080" y="446" width="3" height="38" fill="#ff0000"/><rect x="1085" y="442" width="1" height="11" fill="#ff0000"/><rect x="1084" y="443" width="3" height="4" fill="#ff0000"/><rect x="1089" y="423" width="1" height="24" fill="#ff0000"/><rect x="1088" y="424" width="3" height="23" fill="#ff0000"/><rect x="1093" y="417" width="1" height="21" fill="#00ff00"/><rect x="1092" y="424" width="3" height="1" fill="#00ff00"/><rect x="1097" y="422" width="1" height="24" fill="#00ff00"/><rect x="1096" y="424" width="3" height="11" fill="#00ff00"/><rect x="1101" y="411" width="1" height="29" fill="#ff0000"/><rect x="1100" y="427" width="3" height="9" fill="#ff0000"/><rect x="1105" y="419" width="1" height="43" fill="#00ff00"/><rect x="1104" y="427" width="3" height="32" fill="#00ff00"/><rect x="1109" y="458" width="1" height="11" fill="#00ff00"/><rect x="1108" y="459" width="3" height="6" fill="#00ff00"/><rect x="1113" y="460" width="1" height="24" fill="#00ff00"/><rect x="1112" y="468" width="3" height="9" fill="#00ff00"/><rect x="1117" y="466" width="1" height="16" fill="#00ff00"/><rect x="1116" y="476" width="3" height="2" fill="#00ff00"/><rect x="1121" y="466" width="1" height="26" fill="#00ff00"/><rect x="1120" y="476" width="3" height="10" fill="#00ff00"/><rect x="1125" y="471" width="1" height="20" fill="#ff0000"/><rect x="1124" y="480" width="3" height="7" fill="#ff0000"/><rect x="1129" y="463" width="1" height="37" fill="#ff0000"/><rect x="1128" y="464" width="3" height="17" fill="#ff0000"/><rect x="1133" y="463" width="1" height="13" fill="#00ff00"/><rect x="1132" y="464" width="3" height="9" fill="#00ff00"/><rect x="1137" y="427" width="1" height="57" fill="#ff0000"/><rect x="1136" y="431" width="3" height="33" fill="#ff0000"/><rect x="1141" y="417" width="1" height="19" fill="#ff0000"/><rect x="1140" y="422" width="3" height="10" fill="#ff0000"/><rect x="1145" y="397" width="1" height="38" fill="#ff0000"/><rect x="1144" y="418" width="3" height="5" fill="#ff0000"/><rect x="1149" y="406" width="1" height="28" fill="#ff0000"/><rect x="1148" y="414" width="3" height="5" fill="#ff0000"/><rect x="1153" y="401" width="1" height="54" fill="#00ff00"/><rect x="1152" y="414" width="3" height="33" fill="#00ff00"/><rect x="1157" y="442" width="1" height="9" fill="#ff0000"/><rect x="1156" y="445" width="3" height="3" fill="#ff0000"/><rect x="1161" y="426" width="1" height="19" fill="#ff0000"/><rect x="1160" y="432" width="3" height="11" fill="#ff0000"/><rect x="1165" y="416" width="1" height="28" fill="#ff0000"/><rect x="1164" y="416" width="3" height="15" fill="#ff0000"/><rect x="1169" y="411" width="1" height="20" fill="#00ff00"/><rect x="1168" y="417" width="3" height="5" fill="#00ff00"/><rect x="1173" y="368" width="1" height="53" fill="#ff0000"/><rect x="1172" y="396" width="3" height="25" fill="#ff0000"/><rect x="1177" y="332" width="1" height="75" fill="#ff0000"/><rect x="1176" y="382" width="3" height="14" fill="#ff0000"/><rect x="1181" y="379" width="1" height="21" fill="#00ff00"/><rect x="1180" y="382" width="3" height="13" fill="#00ff00"/><rect x="1185" y="365" width="1" height="28" fill="#ff0000"/><rect x="1184" y="381" width="3" height="7" fill="#ff0000"/><rect x="1189" y="352" width="1" height="36" fill="#ff0000"/><rect x="1188" y="366" width="3" height="16" fill="#ff0000"/><rect x="1193" y="365" width="1" height="37" fill="#00ff00"/><rect x="1192" y="366" width="3" height="25" fill="#00ff00"/><rect x="1197" y="375" width="1" height="29" fill="#00ff00"/><rect x="1196" y="389" width="3" height="9" fill="#00ff00"/><rect x="1201" y="386" width="1" height="38" fill="#00ff00"/><rect x="1200" y="397" width="3" height="22" fill="#00ff00"/><rect x="1205" y="419" width="1" height="16" fill="#00ff00"/><rect x="1204" y="419" width="3" height="15" fill="#00ff00"/><rect x="1209" y="411" width="1" height="22" fill="#ff0000"/><rect x="1208" y="418" width="3" height="8" fill="#ff0000"/><rect x="1213" y="413" width="1" height="20" fill="#ff0000"/><rect x="1212" y="415" width="3" height="3" fill="#ff0000"/><rect x="1217" y="414" width="1" height="10" fill="#00ff00"/><rect x="1216" y="415" width="3" height="6" fill="#00ff00"/><rect x="1221" y="409" width="1" height="14" fill="#ff0000"/><rect x="1220" y="410" width="3" height="8" fill="#ff0000"/><rect x="1225" y="349" width="1" height="65" fill="#ff0000"/><rect x="1224" y="361" width="3" height="49" fill="#ff0000"/><rect x="1229" y="345" width="1" height="20" fill="#ff0000"/><rect x="1228" y="345" width="3" height="17" fill="#ff0000"/><rect x="1233" y="325" width="1" height="27" fill="#ff0000"/><rect x="1232" y="331" width="3" height="20" fill="#ff0000"/><rect x="1237" y="303" width="1" height="34" fill="#ff0000"/><rect x="1236" y="315" width="3" height="16" fill="#ff0000"/><rect x="1241" y="309" width="1" height="14" fill="#00ff00"/><rect x="1240" y="315" width="3" height="6" fill="#00ff00"/><rect x="1245" y="314" width="1" height="43" fill="#00ff00"/><rect x="1244" y="322" width="3" height="11" fill="#00ff00"/><rect x="1249" y="333" width="1" height="58" fill="#00ff00"/><rect x="1248" y="333" width="3" height="29" fill="#00ff00"/><rect x="1253" y="348" width="1" height="14" fill="#ff0000"/><rect x="1252" y="358" width="3" height="3" fill="#ff0000"/><rect x="1257" y="329" width="1" height="37" fill="#ff0000"/><rect x="1256" y="342" width="3" height="23" fill="#ff0000"/><rect x="1261" y="335" width="1" height="49" fill="#00ff00"/><rect x="1260" y="341" width="3" height="37" fill="#00ff00"/><rect x="1265" y="357" width="1" height="44" fill="#00ff00"/><rect x="1264" y="378" width="3" height="16" fill="#00ff00"/><rect x="1269" y="390" width="1" height="25" fill="#00ff00"/><rect x="1268" y="394" width="3" height="14" fill="#00ff00"/><rect x="1273" y="395" width="1" height="26" fill="#ff0000"/><rect x="1272" y="399" width="3" height="8" fill="#ff0000"/><rect x="1277" y="387" width="1" height="14" fill="#ff0000"/><rect x="1276" y="394" width="3" height="6" fill="#ff0000"/><rect x="1281" y="380" width="1" height="20" fill="#ff0000"/><rect x="1280" y="383" width="3" height="13" fill="#ff0000"/><rect x="1285" y="373" width="1" height="33" fill="#00ff00"/><rect x="1284" y="383" width="3" height="10" fill="#00ff00"/><rect x="1289" y="361" width="1" height="35" fill="#ff0000"/><rect x="1288" y="370" width="3" height="23" fill="#ff0000"/><rect x="1293" y="354" width="1" height="31" fill="#00ff00"/><rect x="1292" y="369" width="3" height="10" fill="#00ff00"/><rect x="1297" y="376" width="1" height="44" fill="#00ff00"/><rect x="1296" y="378" width="3" height="36" fill="#00ff00"/><rect x="1301" y="412" width="1" height="7" fill="#00ff00"/><rect x="1300" y="413" width="3" height="2" fill="#00ff00"/></g>
<path class="ce" d="M221.5 238v2M1040.5 434v2M131.5 176v2M716.5 314v2M693.5 280v2M529.5 333v2M856.5 417v2M577.5 313v2M911.5 459v2M373.5 285v2M870.5 430v2M135.5 181v2M1036.5 439v2M588.5 298v2M599.5 283v2M1035.5 441v2M719.5 320v2M375.5 288v2M1031.5 448v2M1242.5 403v2M138.5 185v2M1034.5 443v2M718.5 318v2M211.5 221v2M722.5 325v2M212.5 223v2M215.5 228v2M696.5 284v2M707.5 299v2M140.5 188v2M593.5 291v2M217.5 231v2M854.5 414v2M709.5 302v2M1253.5 391v2M377.5 291v2M914.5 463v2M1032.5 446v2M379.5 294v2M214.5 226v2M1234.5 413v2M916.5 466v2M602.5 279v2M711.5 305v2M141.5 190v2M1045.5 428v2M581.5 308v2M596.5 287v2M721.5 323v2M713.5 308v2M923.5 475v2M126.5 170v2M703.5 293v2M1227.5 421v2M724.5 329v2M218.5 233v2M1239.5 407v2M584.5 304v2M705.5 296v2M723.5 327v2M220.5 236v2M715.5 312v2M919.5 470v2M586.5 301v2M1251.5 394v2M714.5 310v2M717.5 316v2M591.5 294v2M700.5 289v2M691.5 277v2M6 192.5h1M142 192.5h1M205 217.5h2M488 340.5h4M511 340.5h10M740 340.5h15M313 273.5h1M611 273.5h2M665 273.5h2M455 320.5h1M546 320.5h12M570 320.5h1M207 218.5h1M902 451.5h1M1029 451.5h1M1077 418.5h9M1101 418.5h1M1230 418.5h1M895 447.5h2M1154 447.5h1M1172 447.5h2M847 407.5h1M416 312.5h6M428 312.5h15M578 312.5h1M869 429.5h1M1116 429.5h1M1213 429.5h5M496 342.5h5M506 342.5h2M757 342.5h2M927 480.5h2M981 480.5h3M225 242.5h1M258 242.5h3M275 242.5h2M316 276.5h1M342 276.5h2M354 276.5h3M605 276.5h2M689 276.5h2M809 381.5h2M1284 381.5h3M1297 381.5h4M801 377.5h2M868 428.5h1M1114 428.5h2M1218 428.5h3M228 244.5h2M253 244.5h3M279 244.5h2M761 344.5h1M314 274.5h1M347 274.5h3M609 274.5h2M667 274.5h18M402 309.5h4M292 252.5h1M310 270.5h1M616 270.5h1M660 270.5h2M473 334.5h1M730 334.5h1M53 166.5h13M86 166.5h4M117 166.5h3M367 282.5h2M600 282.5h1M694 282.5h1M595 289.5h1M319 278.5h4M336 278.5h3M359 278.5h2M603 278.5h1M913 462.5h1M1016 462.5h2M449 316.5h2M575 316.5h1M201 214.5h2M307 267.5h1M619 267.5h1M655 267.5h2M929 481.5h2M979 481.5h2M234 247.5h2M246 247.5h2M285 247.5h1M897 448.5h2M1155 448.5h2M1171 448.5h1M226 243.5h2M256 243.5h2M277 243.5h2M890 444.5h2M1150 444.5h1M1177 444.5h1M909 457.5h1M1023 457.5h1M874 435.5h1M1124 435.5h2M1190 435.5h2M223 241.5h2M261 241.5h2M269 241.5h6M315 275.5h1M344 275.5h3M350 275.5h4M607 275.5h2M685 275.5h4M454 319.5h1M571 319.5h2M46 168.5h3M69 168.5h13M123 168.5h2M881 440.5h3M1138 440.5h6M1184 440.5h1M996 471.5h4M172 210.5h15M196 210.5h1M924 477.5h1M988 477.5h1M317 277.5h2M339 277.5h3M357 277.5h2M604 277.5h1M492 341.5h4M508 341.5h3M755 341.5h2M876 437.5h1M1038 437.5h1M1128 437.5h2M1188 437.5h1M767 350.5h1M456 321.5h1M544 321.5h2M558 321.5h7M569 321.5h1M12 188.5h1M864 425.5h1M1049 425.5h2M1110 425.5h2M1224 425.5h1M877 438.5h2M1037 438.5h1M1130 438.5h3M1186 438.5h2M768 351.5h1M36 172.5h2M127 172.5h1M892 445.5h2M1033 445.5h1M1151 445.5h2M1175 445.5h2M1044 430.5h1M1117 430.5h1M1198 430.5h15M98 163.5h8M483 339.5h5M521 339.5h2M738 339.5h2M236 248.5h10M286 248.5h1M469 331.5h1M531 331.5h1M725 331.5h2M904 453.5h1M1027 453.5h1M905 454.5h2M1026 454.5h1M19 181.5h1M867 427.5h1M1046 427.5h1M1113 427.5h1M1221 427.5h1M302 262.5h1M628 262.5h16M850 410.5h1M1237 410.5h1M16 184.5h1M137 184.5h1M858 420.5h1M1064 420.5h4M1104 420.5h1M1228 420.5h1M861 422.5h1M1056 422.5h4M1106 422.5h2M1043 431.5h1M1118 431.5h2M1196 431.5h2M327 280.5h5M363 280.5h2M1086 417.5h3M1099 417.5h2M1231 417.5h1M395 307.5h4M582 307.5h1M712 307.5h1M990 475.5h2M294 254.5h1M1010 466.5h2M452 318.5h2M573 318.5h1M312 272.5h1M613 272.5h1M664 272.5h1M901 450.5h1M1030 450.5h1M1159 450.5h10M167 209.5h5M187 209.5h5M195 209.5h1M917 468.5h1M1006 468.5h2M879 439.5h2M1133 439.5h5M1185 439.5h1M922 474.5h1M992 474.5h1M863 424.5h1M1051 424.5h3M1109 424.5h1M1225 424.5h1M822 390.5h1M1254 390.5h3M303 263.5h1M624 263.5h4M644 263.5h4M828 396.5h1M1250 396.5h1M859 421.5h2M1060 421.5h4M1105 421.5h1M770 353.5h1M410 311.5h6M579 311.5h1M301 261.5h1M311 271.5h1M614 271.5h2M662 271.5h2M447 315.5h2M576 315.5h1M309 269.5h1M617 269.5h1M658 269.5h2M290 251.5h2M471 333.5h2M728 333.5h2M365 281.5h2M601 281.5h1M3 194.5h1M144 194.5h1M24 177.5h3M222 240.5h1M263 240.5h6M888 443.5h2M1149 443.5h1M1178 443.5h2M838 403.5h5M821 389.5h1M1257 389.5h7M776 359.5h1M42 169.5h4M125 169.5h1M862 423.5h1M1054 423.5h2M1108 423.5h1M1226 423.5h1M872 433.5h1M1041 433.5h1M1121 433.5h2M1193 433.5h2M777 360.5h1M17 183.5h1M136 183.5h1M479 338.5h4M523 338.5h2M736 338.5h2M306 266.5h1M620 266.5h1M653 266.5h2M865 426.5h2M1047 426.5h2M1112 426.5h1M1222 426.5h2M90 165.5h4M114 165.5h3M807 380.5h2M1287 380.5h10M817 386.5h1M1271 386.5h2M873 434.5h1M1123 434.5h1M1192 434.5h1M855 416.5h1M1089 416.5h10M1232 416.5h1M9 190.5h1M958 486.5h15M374 287.5h1M698 287.5h1M376 290.5h1M594 290.5h1M378 293.5h1M592 293.5h1M871 432.5h1M1042 432.5h1M1120 432.5h1M1195 432.5h1M811 382.5h2M1281 382.5h3M385 300.5h1M587 300.5h1M466 329.5h2M533 329.5h2M805 379.5h2M38 171.5h2M422 313.5h6M443 313.5h2M474 335.5h1M528 335.5h1M731 335.5h2M813 383.5h1M1278 383.5h3M35 173.5h1M128 173.5h1M829 397.5h1M1249 397.5h1M406 310.5h4M580 310.5h1M464 328.5h2M535 328.5h2M475 336.5h2M527 336.5h1M733 336.5h2M946 485.5h12M973 485.5h1M445 314.5h2M304 264.5h1M622 264.5h2M648 264.5h3M934 483.5h4M976 483.5h1M844 405.5h2M1241 405.5h1M926 479.5h1M984 479.5h2M857 419.5h1M1068 419.5h9M1102 419.5h2M1229 419.5h1M886 442.5h2M1147 442.5h2M1180 442.5h2M884 441.5h2M1144 441.5h3M1182 441.5h2M501 343.5h5M759 343.5h2M793 372.5h2M305 265.5h1M621 265.5h1M651 265.5h2M459 324.5h1M540 324.5h1M323 279.5h4M332 279.5h4M361 279.5h2M692 279.5h1M477 337.5h2M525 337.5h2M735 337.5h1M460 325.5h1M539 325.5h1M907 455.5h1M1025 455.5h1M908 456.5h1M1024 456.5h1M852 412.5h1M1235 412.5h1M766 349.5h1M13 187.5h1M139 187.5h1M297 257.5h1M1 195.5h2M145 195.5h1M903 452.5h1M1028 452.5h1M931 482.5h3M977 482.5h2M899 449.5h2M1157 449.5h2M1169 449.5h2M772 355.5h1M773 356.5h1M10 189.5h2M461 326.5h2M538 326.5h1M894 446.5h1M1153 446.5h1M1174 446.5h1M457 322.5h1M542 322.5h2M565 322.5h4M720 322.5h1M798 375.5h2M386 301.5h2M708 301.5h1M49 167.5h4M66 167.5h3M82 167.5h4M120 167.5h3M393 306.5h2M583 306.5h1M299 259.5h1M308 268.5h1M618 268.5h1M657 268.5h1M819 388.5h2M1264 388.5h5M230 245.5h2M251 245.5h2M281 245.5h2M468 330.5h1M532 330.5h1M774 357.5h1M875 436.5h1M1039 436.5h1M1126 436.5h2M1189 436.5h1M775 358.5h1M830 398.5h1M1248 398.5h1M925 478.5h1M986 478.5h2M27 176.5h4M22 178.5h2M132 178.5h1M912 461.5h1M1018 461.5h1M826 394.5h1M814 384.5h2M1275 384.5h3M827 395.5h1M920 472.5h1M994 472.5h2M781 364.5h1M938 484.5h8M974 484.5h2M388 302.5h1M848 408.5h1M795 373.5h2M597 286.5h1M697 286.5h1M816 385.5h1M1273 385.5h2M7 191.5h2M451 317.5h1M574 317.5h1M915 465.5h1M1012 465.5h2M382 298.5h2M706 298.5h1M463 327.5h1M537 327.5h1M910 458.5h1M1022 458.5h1M843 404.5h1M783 366.5h1M784 367.5h1M146 196.5h1M458 323.5h1M541 323.5h1M390 304.5h2M710 304.5h1M153 202.5h1M832 400.5h1M1245 400.5h1M399 308.5h3M800 376.5h1M825 393.5h1M1252 393.5h1M771 354.5h1M1015 463.5h1M216 230.5h1M381 297.5h1M589 297.5h1M823 391.5h1M787 369.5h2M797 374.5h1M789 370.5h2M598 285.5h1M918 469.5h1M1004 469.5h2M818 387.5h1M1269 387.5h2M163 208.5h4M192 208.5h3M33 174.5h2M129 174.5h1M470 332.5h1M530 332.5h1M727 332.5h1M824 392.5h1M1000 470.5h4M834 402.5h4M1243 402.5h1M369 283.5h2M695 283.5h1M779 362.5h1M780 363.5h1M14 186.5h1M831 399.5h1M1246 399.5h2M846 406.5h1M1240 406.5h1M40 170.5h2M785 368.5h2M160 207.5h3M287 249.5h2M197 211.5h2M94 164.5h4M106 164.5h8M31 175.5h2M130 175.5h1M782 365.5h1M1014 464.5h1M232 246.5h2M248 246.5h3M283 246.5h2M849 409.5h1M1238 409.5h1M833 401.5h1M1244 401.5h1M803 378.5h2M151 200.5h1M389 303.5h1M585 303.5h1M699 288.5h1M791 371.5h2M1020 459.5h2M147 197.5h1M21 179.5h1M133 179.5h1M921 473.5h1M993 473.5h1M210 220.5h1M701 291.5h1M764 347.5h1M20 180.5h1M134 180.5h1M702 292.5h1M778 361.5h1M1019 460.5h1M384 299.5h1M15 185.5h1M158 206.5h2M380 296.5h1M590 296.5h1M851 411.5h1M1236 411.5h1M154 203.5h1M4 193.5h2M143 193.5h1M155 204.5h1M293 253.5h1M1233 415.5h1M149 199.5h2M371 284.5h2M300 260.5h1M289 250.5h1M1008 467.5h2M853 413.5h1M156 205.5h2M208 219.5h2M392 305.5h1M762 345.5h1M763 346.5h1M203 215.5h1M204 216.5h1M18 182.5h1M769 352.5h1M989 476.5h1M199 212.5h1M200 213.5h1M765 348.5h1M295 255.5h1M296 256.5h1M152 201.5h1M213 225.5h1M704 295.5h1M148 198.5h1M298 258.5h1M219 235.5h1" stroke="#0000cd" stroke-width="1" fill="none"/>
<path class="ce" d="M383.5 295v2M989.5 455v2M1001.5 429v2M530.5 326v3M697.5 324v2M608.5 245v2M660.5 292v2M311.5 287v2M314.5 293v2M657.5 285v3M998.5 436v2M127.5 178v2M1184.5 418v2M638.5 251v2M288.5 253v2M901.5 458v2M303.5 274v2M1175.5 432v2M1073.5 421v2M545.5 301v2M152.5 224v3M919.5 484v2M744.5 366v3M856.5 463v2M630.5 237v2M997.5 438v2M190.5 230v2M634.5 243v2M934.5 504v2M524.5 340v2M1291.5 368v2M993.5 446v2M1005.5 420v2M1295.5 374v2M309.5 284v2M312.5 289v2M658.5 288v2M313.5 291v2M659.5 290v2M1094.5 446v2M743.5 369v2M539.5 309v2M1236.5 386v2M1170.5 440v2M800.5 385v2M189.5 232v2M535.5 316v2M523.5 342v2M1004.5 422v2M301.5 271v2M1003.5 424v3M531.5 324v2M395.5 313v2M818.5 416v2M147.5 212v3M821.5 421v2M219.5 236v2M406.5 327v2M154.5 229v2M959.5 513v2M61.5 157v2M1027.5 396v2M136.5 192v2M810.5 402v2M1293.5 371v2M139.5 197v2M719.5 363v2M1297.5 377v2M720.5 365v2M979.5 480v3M1049.5 396v2M986.5 461v2M914.5 473v2M496.5 346v2M802.5 389v2M499.5 350v2M527.5 333v3M921.5 488v2M799.5 383v2M379.5 290v2M819.5 418v2M397.5 317v2M221.5 240v2M394.5 311v2M649.5 271v2M977.5 486v3M653.5 277v2M1078.5 427v2M985.5 463v2M1173.5 435v2M63.5 160v2M526.5 336v2M808.5 398v2M718.5 361v2M213.5 225v2M641.5 257v2M142.5 202v2M1179.5 426v2M404.5 323v2M976.5 489v2M923.5 492v2M1029.5 392v2M69.5 170v2M392.5 307v2M186.5 239v2M1043.5 389v2M652.5 275v2M848.5 451v2M975.5 491v2M699.5 327v2M782.5 362v2M211.5 221v2M212.5 223v2M640.5 255v2M709.5 344v2M712.5 349v2M713.5 351v2M1256.5 369v2M850.5 454v2M701.5 331v2M315.5 295v2M149.5 217v3M304.5 276v2M906.5 465v2M156.5 233v2M883.5 453v2M711.5 347v2M981.5 473v3M812.5 406v2M965.5 505v2M722.5 369v2M21.5 155v2M916.5 477v2M1028.5 394v2M801.5 387v2M1233.5 390v2M992.5 448v2M291.5 257v2M396.5 315v2M822.5 423v2M155.5 231v2M158.5 236v2M1187.5 413v2M347.5 292v2M633.5 241v2M1183.5 420v2M388.5 301v2M140.5 199v2M814.5 409v2M215.5 229v2M811.5 404v2M915.5 475v2M1186.5 415v2M129.5 181v2M293.5 260v2M1177.5 429v2M978.5 483v3M538.5 311v2M64.5 162v2M642.5 259v2M534.5 318v2M217.5 232v2M214.5 227v2M10.5 168v2M913.5 471v2M1172.5 437v2M920.5 486v2M134.5 189v2M525.5 338v2M537.5 313v2M502.5 354v2M295.5 263v2M533.5 320v2M656.5 283v2M317.5 299v2M700.5 329v2M703.5 334v2M66.5 165v2M980.5 476v4M403.5 321v2M532.5 322v2M148.5 215v2M988.5 457v2M1000.5 431v3M984.5 465v2M922.5 490v2M654.5 279v2M987.5 459v2M999.5 434v2M1083.5 433v2M785.5 366v2M983.5 467v3M1181.5 423v2M542.5 305v2M974.5 493v2M982.5 470v3M635.5 245v2M994.5 444v2M1006.5 418v2M970.5 499v2M973.5 495v2M131.5 184v2M823.5 425v2M306.5 279v2M826.5 430v2M529.5 329v2M159.5 238v2M793.5 374v2M144.5 206v2M721.5 367v2M644.5 263v2M151.5 222v2M918.5 481v3M528.5 331v2M996.5 440v2M803.5 391v2M133.5 187v2M308.5 282v2M825.5 428v2M376.5 285v2M188.5 234v3M995.5 442v2M68.5 168v2M146.5 210v2M643.5 261v2M143.5 204v2M817.5 414v2M991.5 450v2M218.5 234v2M405.5 325v2M150.5 220v2M1030.5 390v2M924.5 494v2M1026.5 398v2M187.5 237v2M715.5 355v2M990.5 452v3M1002.5 427v2M612.5 240v2M604.5 250v2M704.5 336v2M375.5 283v2M378.5 288v2M393.5 309v2M1299.5 380v2M696.5 322v2M714.5 353v2M717.5 359v2M637.5 249v2M298.5 267v2M548.5 297v2M655.5 281v2M904.5 462v2M851.5 456v2M316.5 297v2M706.5 339v2M391.5 305v2M551.5 293v2M695.5 320v2M19.5 158v2M125.5 175v2M639.5 253v2M636.5 247v2M518.5 348v2M962.5 509v2M153.5 227v2M853.5 459v2M917.5 479v2M708.5 342v2M827.5 432v2M815.5 411v2M145.5 208v2M645.5 265v2M220.5 238v2M407.5 329v2M1088.5 439v2M137.5 194v2M1225.5 398v2M796.5 378v2M647.5 268v2M1169.5 442v2M806.5 395v2M809.5 400v2M716.5 357v2M798.5 381v2M1025.5 400v2M615 237.5h2M412 333.5h1M439 333.5h1M465 333.5h2M702 333.5h1M444 329.5h1M457 329.5h2M1044 391.5h1M168 247.5h3M174 247.5h2M231 247.5h2M607 247.5h1M735 375.5h2M1251 375.5h1M163 243.5h1M182 243.5h1M223 243.5h2M610 243.5h1M871 464.5h2M905 464.5h1M164 244.5h1M181 244.5h1M225 244.5h2M609 244.5h1M849 453.5h1M894 453.5h2M1105 453.5h2M1136 453.5h4M1152 453.5h3M1157 453.5h2M365 282.5h2M373 282.5h2M568 282.5h3M838 443.5h2M1091 443.5h1M1009 415.5h2M1067 415.5h1M1013 412.5h1M1064 412.5h1M1188 412.5h1M840 444.5h1M1092 444.5h1M1168 444.5h1M841 445.5h1M1093 445.5h1M1167 445.5h1M348 291.5h1M553 291.5h1M237 252.5h2M273 252.5h2M287 252.5h1M603 252.5h1M244 258.5h2M260 258.5h1M266 258.5h1M596 258.5h1M3 174.5h2M72 174.5h1M105 174.5h1M123 174.5h2M927 498.5h2M971 498.5h1M506 357.5h3M758 357.5h4M78 179.5h1M99 179.5h1M896 454.5h1M1107 454.5h9M1133 454.5h3M1155 454.5h2M318 300.5h5M340 300.5h1M387 300.5h1M546 300.5h1M668 300.5h1M447 326.5h2M452 326.5h2M698 326.5h1M239 253.5h1M272 253.5h1M602 253.5h1M414 335.5h2M437 335.5h1M469 335.5h2M833 439.5h1M1171 439.5h1M356 285.5h4M559 285.5h1M834 440.5h1M884 452.5h1M892 452.5h2M1103 452.5h2M1140 452.5h12M1159 452.5h1M1053 401.5h1M1223 401.5h1M847 450.5h1M886 450.5h2M1097 450.5h3M1162 450.5h1M166 246.5h2M176 246.5h3M229 246.5h2M753 360.5h1M767 360.5h3M779 360.5h2M1273 360.5h8M503 356.5h3M509 356.5h2M351 288.5h1M556 288.5h1M520 346.5h1M710 346.5h1M59 156.5h2M622 233.5h3M422 342.5h3M490 342.5h2M1022 404.5h1M1056 404.5h1M1211 404.5h8M419 339.5h1M433 339.5h1M481 339.5h4M944 513.5h2M207 220.5h4M73 175.5h1M104 175.5h1M878 459.5h1M305 278.5h1M575 278.5h1M1019 407.5h1M1059 407.5h1M1197 407.5h7M805 394.5h1M1047 394.5h1M1229 394.5h2M804 393.5h1M1046 393.5h1M1231 393.5h1M751 361.5h2M781 361.5h1M1270 361.5h3M1281 361.5h1M421 341.5h1M425 341.5h5M488 341.5h2M707 341.5h1M590 263.5h2M750 362.5h1M1267 362.5h3M1282 362.5h1M748 363.5h2M1264 363.5h3M1283 363.5h1M885 451.5h1M888 451.5h4M1100 451.5h3M1160 451.5h2M24 152.5h1M44 152.5h8M410 332.5h2M440 332.5h1M463 332.5h2M517 350.5h1M326 303.5h1M336 303.5h2M389 303.5h1M544 303.5h1M671 303.5h2M912 470.5h1M492 343.5h2M816 413.5h1M1012 413.5h1M1065 413.5h1M582 271.5h1M940 510.5h1M620 234.5h2M625 234.5h3M86 185.5h2M90 185.5h3M7 172.5h1M70 172.5h1M107 172.5h2M118 172.5h3M88 186.5h2M132 186.5h1M745 365.5h2M784 365.5h1M1260 365.5h2M1285 365.5h2M80 181.5h2M97 181.5h1M242 256.5h1M268 256.5h2M290 256.5h1M598 256.5h2M11 167.5h1M67 167.5h1M171 248.5h3M233 248.5h1M280 248.5h1M606 248.5h1M30 146.5h8M162 242.5h1M183 242.5h2M222 242.5h1M611 242.5h1M1034 387.5h2M1041 387.5h1M1015 410.5h2M1062 410.5h1M1190 410.5h2M327 304.5h2M335 304.5h1M390 304.5h1M543 304.5h1M673 304.5h2M843 447.5h2M1165 447.5h1M1079 429.5h1M857 465.5h5M869 465.5h2M1 173.5h2M5 173.5h2M71 173.5h1M106 173.5h1M121 173.5h2M18 160.5h1M936 507.5h1M964 507.5h1M754 359.5h2M764 359.5h3M770 359.5h2M775 359.5h4M342 298.5h1M385 298.5h1M665 298.5h2M1023 403.5h1M1055 403.5h1M1219 403.5h2M613 239.5h1M631 239.5h1M330 306.5h2M333 306.5h1M677 306.5h1M363 283.5h2M563 283.5h5M846 449.5h1M1096 449.5h1M1163 449.5h1M495 345.5h1M521 345.5h1M1258 367.5h1M1289 367.5h2M22 154.5h1M54 154.5h3M246 259.5h1M258 259.5h2M261 259.5h2M265 259.5h1M292 259.5h1M595 259.5h1M950 516.5h8M418 338.5h1M434 338.5h1M477 338.5h4M705 338.5h1M57 155.5h2M247 260.5h1M257 260.5h1M263 260.5h2M594 260.5h1M880 457.5h1M900 457.5h1M380 292.5h1M552 292.5h1M250 262.5h5M294 262.5h1M592 262.5h1M756 358.5h2M762 358.5h2M772 358.5h3M234 249.5h1M278 249.5h2M281 249.5h2M605 249.5h1M794 376.5h1M1250 376.5h1M1296 376.5h1M881 456.5h1M898 456.5h2M1120 456.5h9M302 273.5h1M580 273.5h1M650 273.5h1M408 331.5h2M441 331.5h1M461 331.5h2M1077 426.5h1M845 448.5h1M1095 448.5h1M1164 448.5h1M352 287.5h1M377 287.5h1M557 287.5h1M581 272.5h1M938 509.5h2M85 184.5h1M93 184.5h2M138 196.5h1M235 250.5h1M276 250.5h2M283 250.5h2M747 364.5h1M783 364.5h1M1262 364.5h2M1284 364.5h1M420 340.5h1M430 340.5h3M485 340.5h3M344 296.5h1M549 296.5h1M663 296.5h1M165 245.5h1M179 245.5h2M227 245.5h2M1051 399.5h1M829 435.5h1M1084 435.5h1M830 436.5h1M1085 436.5h1M296 265.5h1M588 265.5h1M1024 402.5h1M1054 402.5h1M1221 402.5h2M497 348.5h1M797 380.5h1M1243 380.5h1M926 497.5h1M972 497.5h1M1021 405.5h1M1057 405.5h1M1209 405.5h2M17 161.5h1M417 337.5h1M435 337.5h1M473 337.5h4M381 293.5h1M241 255.5h1M270 255.5h1M289 255.5h1M600 255.5h1M445 328.5h1M455 328.5h2M9 170.5h1M113 170.5h3M196 225.5h1M882 455.5h1M897 455.5h1M1116 455.5h4M1129 455.5h4M516 351.5h1M835 441.5h2M1089 441.5h1M1031 389.5h2M1234 389.5h1M837 442.5h1M1090 442.5h1M1240 382.5h2M1300 382.5h1M731 374.5h4M737 374.5h2M1252 374.5h1M248 261.5h2M255 261.5h2M593 261.5h1M413 334.5h1M438 334.5h1M467 334.5h2M937 508.5h1M963 508.5h1M832 438.5h1M1087 438.5h1M157 235.5h1M618 235.5h2M628 235.5h1M943 512.5h1M960 512.5h1M240 254.5h1M271 254.5h1M601 254.5h1M932 502.5h1M968 502.5h1M341 299.5h1M386 299.5h1M547 299.5h1M667 299.5h1M343 297.5h1M384 297.5h1M664 297.5h1M202 221.5h5M243 257.5h1M267 257.5h1M597 257.5h1M1178 428.5h1M1045 392.5h1M1232 392.5h1M910 469.5h2M310 286.5h1M353 286.5h3M558 286.5h1M1082 432.5h1M332 307.5h1M541 307.5h1M678 307.5h2M8 171.5h1M109 171.5h4M116 171.5h2M852 458.5h1M879 458.5h1M345 295.5h1M550 295.5h1M662 295.5h1M854 461.5h1M876 461.5h1M903 461.5h1M573 279.5h2M307 281.5h1M367 281.5h2M371 281.5h2M571 281.5h1M329 305.5h1M334 305.5h1M675 305.5h2M23 153.5h1M52 153.5h2M728 373.5h3M739 373.5h1M792 373.5h1M1253 373.5h1M1294 373.5h1M788 370.5h1M1292 370.5h1M29 147.5h1M38 147.5h1M399 319.5h2M694 319.5h1M1036 386.5h5M807 397.5h1M1226 397.5h1M197 224.5h2M689 314.5h1M446 327.5h1M454 327.5h1M297 266.5h1M587 266.5h1M323 301.5h2M339 301.5h1M669 301.5h1M325 302.5h1M338 302.5h1M670 302.5h1M75 177.5h1M102 177.5h1M126 177.5h1M1008 416.5h1M1068 416.5h1M16 162.5h1M941 511.5h2M961 511.5h1M614 238.5h1M1259 366.5h1M1287 366.5h2M684 310.5h1M862 466.5h7M907 467.5h1M1076 425.5h1M1180 425.5h1M685 311.5h1M908 468.5h2M160 240.5h1M632 240.5h1M83 183.5h2M95 183.5h1M130 183.5h1M1050 398.5h1M79 180.5h1M98 180.5h1M128 180.5h1M691 316.5h1M350 289.5h1M555 289.5h1M723 371.5h2M741 371.5h2M789 371.5h2M1255 371.5h1M1048 395.5h1M1228 395.5h1M820 420.5h1M1072 420.5h1M398 318.5h1M693 318.5h1M686 312.5h2M946 514.5h2M1020 406.5h1M1058 406.5h1M1204 406.5h5M1033 388.5h1M1042 388.5h1M1235 388.5h1M74 176.5h1M103 176.5h1M494 344.5h1M522 344.5h1M236 251.5h1M275 251.5h1M285 251.5h2M1242 381.5h1M682 309.5h2M501 353.5h1M514 353.5h1M360 284.5h3M560 284.5h3M498 349.5h1M931 501.5h1M969 501.5h1M28 148.5h1M39 148.5h1M25 151.5h1M43 151.5h1M1080 430.5h1M1081 431.5h1M1176 431.5h1M62 159.5h1M76 178.5h2M100 178.5h2M795 377.5h1M1248 377.5h2M401 320.5h2M725 372.5h3M740 372.5h1M791 372.5h1M1254 372.5h1M346 294.5h1M382 294.5h1M661 294.5h1M500 352.5h1M515 352.5h1M1182 422.5h1M877 460.5h1M902 460.5h1M813 408.5h1M1018 408.5h1M1060 408.5h1M1193 408.5h4M688 313.5h1M349 290.5h1M554 290.5h1M1227 396.5h1M1052 400.5h1M1224 400.5h1M842 446.5h1M1166 446.5h1M1074 423.5h1M195 226.5h1M585 268.5h1M1239 383.5h1M1017 409.5h1M1061 409.5h1M1192 409.5h1M512 354.5h2M442 330.5h2M459 330.5h2M786 368.5h1M1257 368.5h1M787 369.5h1M161 241.5h1M185 241.5h1M200 222.5h2M1244 379.5h2M1298 379.5h1M82 182.5h1M96 182.5h1M540 308.5h1M680 308.5h2M26 150.5h1M42 150.5h1M579 274.5h1M651 274.5h1M824 427.5h1M192 228.5h2M586 267.5h1M646 267.5h1M15 163.5h1M1014 411.5h1M1063 411.5h1M1189 411.5h1M194 227.5h1M299 269.5h1M584 269.5h1M1238 384.5h1M948 515.5h2M958 515.5h1M1246 378.5h2M930 500.5h1M416 336.5h1M436 336.5h1M471 336.5h2M27 149.5h1M40 149.5h2M141 201.5h1M216 231.5h1M369 280.5h2M572 280.5h1M449 325.5h1M451 325.5h1M692 317.5h1M1011 414.5h1M1066 414.5h1M873 463.5h2M1007 417.5h1M1069 417.5h1M1185 417.5h1M617 236.5h1M629 236.5h1M933 503.5h1M967 503.5h1M578 275.5h1M191 229.5h1M511 355.5h1M14 164.5h1M65 164.5h1M300 270.5h1M583 270.5h1M648 270.5h1M199 223.5h1M935 506.5h1M855 462.5h1M875 462.5h1M13 165.5h1M828 434.5h1M1174 434.5h1M929 499.5h1M577 276.5h1M589 264.5h1M536 315.5h1M690 315.5h1M831 437.5h1M1086 437.5h1M135 191.5h1M925 496.5h1M450 324.5h1M1070 418.5h1M1071 419.5h1M576 277.5h1M20 157.5h1M1237 385.5h1M12 166.5h1M519 347.5h1M966 504.5h1M1075 424.5h1" stroke="#ff0000" stroke-width="1" fill="none"/>
<path class="ce" d="M400.5 347v3M360.5 275v2M548.5 246v3M1037.5 374v2M44.5 155v4M734.5 371v4M1003.5 380v2M1056.5 422v7M1277.5 392v2M518.5 338v5M216.5 265v3M531.5 278v4M938.5 517v2M1186.5 390v2M958.5 495v2M1173.5 419v3M1138.5 460v4M768.5 368v4M987.5 405v5M572.5 315v2M1228.5 390v4M648.5 304v2M385.5 339v4M292.5 296v3M620.5 243v5M130.5 236v4M90.5 163v3M439.5 316v2M1146.5 438v2M388.5 350v3M419.5 337v2M1096.5 437v2M371.5 296v3M794.5 400v2M813.5 410v5M967.5 472v3M133.5 245v2M823.5 462v6M815.5 420v5M298.5 312v3M10.5 172v4M251.5 238v2M278.5 254v4M535.5 260v4M38.5 127v6M392.5 361v2M637.5 308v3M764.5 350v4M113.5 158v4M576.5 297v5M213.5 247v9M849.5 457v2M140.5 261v2M674.5 311v2M123.5 204v6M1223.5 411v5M1055.5 416v6M585.5 239v6M22.5 124v4M141.5 263v2M983.5 425v5M527.5 296v5M819.5 440v6M14.5 156v4M629.5 282v3M126.5 219v4M159.5 253v2M55.5 194v2M450.5 316v2M904.5 486v3M580.5 279v5M584.5 245v9M1235.5 360v4M937.5 519v2M957.5 497v2M1172.5 422v4M206.5 219v2M1137.5 464v4M1110.5 446v2M1258.5 345v3M453.5 324v3M571.5 317v2M209.5 228v4M1058.5 435v5M1227.5 394v5M1111.5 448v2M167.5 232v3M840.5 479v3M47.5 166v3M242.5 262v4M622.5 254v5M460.5 342v2M112.5 154v4M212.5 240v7M793.5 402v3M1013.5 404v3M48.5 169v4M1033.5 382v4M1180.5 402v2M991.5 387v4M1238.5 344v6M250.5 240v2M223.5 285v3M886.5 450v2M122.5 199v5M1268.5 372v2M656.5 289v2M736.5 360v6M848.5 459v3M825.5 473v4M818.5 435v5M974.5 455v3M1230.5 380v5M21.5 128v3M40.5 139v5M742.5 332v4M982.5 430v5M501.5 357v2M526.5 301v5M981.5 435v5M652.5 297v2M1027.5 403v4M1275.5 388v2M615.5 228v3M93.5 152v4M319.5 314v3M43.5 151v4M563.5 304v3M158.5 255v3M118.5 180v4M426.5 335v2M384.5 336v3M293.5 299v4M956.5 499v2M821.5 451v6M814.5 415v5M619.5 240v3M691.5 343v3M129.5 232v4M538.5 249v4M1234.5 364v4M421.5 340v2M233.5 288v3M387.5 347v3M398.5 354v4M632.5 293v3M732.5 379v4M297.5 310v2M370.5 294v2M530.5 282v5M516.5 347v5M570.5 319v2M605.5 197v2M985.5 415v5M583.5 254v12M529.5 287v5M166.5 235v3M608.5 203v2M643.5 310v2M1024.5 410v2M694.5 353v4M760.5 335v3M16.5 147v4M376.5 309v3M1053.5 407v4M241.5 266v3M944.5 503v2M556.5 277v4M1032.5 386v3M964.5 480v3M893.5 457v2M611.5 210v5M791.5 408v3M1179.5 404v2M636.5 305v3M763.5 345v5M406.5 338v2M593.5 200v3M142.5 265v2M114.5 162v5M582.5 266v9M380.5 322v3M847.5 462v2M673.5 309v2M625.5 267v4M899.5 471v2M973.5 458v2M201.5 206v2M355.5 264v3M777.5 401v3M520.5 329v5M1271.5 379v2M533.5 269v4M56.5 196v2M900.5 473v3M1001.5 376v2M92.5 156v3M628.5 278v4M921.5 531v2M574.5 306v5M57.5 198v3M941.5 510v3M820.5 446v5M549.5 249v4M1212.5 414v2M903.5 482v4M245.5 253v3M1047.5 383v4M1213.5 416v2M1057.5 429v6M1008.5 392v2M1109.5 443v3M552.5 261v4M1241.5 334v2M218.5 270v3M397.5 358v3M731.5 383v4M537.5 253v3M409.5 334v2M523.5 315v5M772.5 384v4M121.5 193v6M232.5 291v2M224.5 288v2M621.5 248v6M578.5 288v4M1012.5 402v2M165.5 238v3M279.5 258v4M877.5 443v2M24.5 118v2M390.5 355v3M826.5 477v5M1289.5 388v2M624.5 263v4M963.5 483v3M1030.5 393v3M587.5 228v6M1120.5 466v3M15.5 151v5M228.5 299v2M1070.5 464v2M492.5 344v2M592.5 203v5M335.5 281v2M701.5 375v2M614.5 224v4M559.5 289v4M833.5 493v2M845.5 466v3M1039.5 370v2M1139.5 455v5M214.5 256v6M971.5 462v3M1205.5 401v2M532.5 273v5M940.5 513v2M1237.5 350v5M960.5 491v2M766.5 359v5M289.5 285v4M127.5 223v5M562.5 300v4M687.5 330v3M275.5 242v4M862.5 449v2M19.5 135v4M755.5 323v2M79.5 188v2M244.5 256v3M740.5 341v5M606.5 199v2M256.5 230v2M524.5 310v5M979.5 444v2M690.5 340v3M1259.5 348v3M11.5 168v4M842.5 474v3M35.5 118v3M1086.5 463v2M909.5 501v3M210.5 232v4M759.5 332v3M858.5 456v2M375.5 307v2M555.5 273v4M1232.5 372v4M577.5 292v5M671.5 305v2M1093.5 443v2M876.5 445v2M514.5 356v4M23.5 120v4M913.5 512v2M1288.5 390v2M898.5 468v3M52.5 184v3M199.5 202v2M353.5 260v2M1270.5 376v3M334.5 283v3M239.5 272v4M200.5 204v2M354.5 262v2M1211.5 412v2M920.5 528v3M1236.5 355v5M591.5 208v4M830.5 491v2M540.5 244v2M318.5 317v2M1215.5 419v2M1007.5 389v3M503.5 361v2M361.5 277v2M364.5 283v2M120.5 188v5M18.5 139v4M78.5 190v3M9.5 176v2M978.5 446v2M771.5 380v4M841.5 477v2M934.5 525v2M389.5 353v2M1118.5 462v2M696.5 361v4M1119.5 464v2M86.5 172v3M816.5 425v5M1231.5 376v4M284.5 273v2M1142.5 447v2M1092.5 445v2M513.5 360v3M378.5 315v4M699.5 371v2M116.5 171v4M381.5 325v4M333.5 286v2M1204.5 399v2M1028.5 400v3M539.5 246v3M812.5 405v5M590.5 212v5M33.5 114v2M427.5 333v2M317.5 319v2M905.5 489v3M34.5 116v2M907.5 496v3M1051.5 399v4M908.5 499v2M1264.5 361v3M89.5 166v2M457.5 334v3M1061.5 448v2M522.5 320v4M1265.5 364v3M914.5 514v2M933.5 527v2M915.5 516v3M464.5 350v2M51.5 180v4M1141.5 449v2M1091.5 447v2M575.5 302v4M1176.5 411v2M831.5 493v2M362.5 279v2M844.5 469v2M1005.5 385v2M12.5 164v4M767.5 364v4M363.5 281v2M119.5 184v4M1136.5 468v2M566.5 315v2M327.5 298v2M855.5 455v2M339.5 272v2M300.5 317v2M135.5 250v3M282.5 268v2M301.5 319v2M990.5 391v5M695.5 357v4M182.5 218v2M283.5 270v3M323.5 305v2M39.5 133v6M712.5 383v2M1054.5 411v5M1202.5 394v3M1229.5 385v5M1175.5 413v3M1187.5 388v2M980.5 440v4M1106.5 436v2M811.5 401v4M1147.5 436v2M631.5 289v4M843.5 471v3M1036.5 376v2M208.5 224v4M455.5 330v2M1050.5 395v4M49.5 173v3M1263.5 359v2M1113.5 452v2M1233.5 368v4M1060.5 445v3M977.5 448v3M773.5 388v4M744.5 324v3M462.5 346v2M528.5 292v4M817.5 430v5M82.5 181v3M1174.5 416v3M997.5 374v2M573.5 311v4M693.5 349v4M1182.5 398v2M993.5 382v2M634.5 299v3M372.5 299v2M610.5 207v3M299.5 315v2M436.5 320v2M743.5 327v5M762.5 341v4M895.5 461v2M916.5 519v2M675.5 313v2M144.5 269v2M627.5 274v4M432.5 326v2M499.5 353v2M1042.5 372v2M203.5 211v2M357.5 269v2M988.5 401v4M59.5 203v2M451.5 318v3M330.5 292v2M484.5 350v2M235.5 284v2M188.5 208v2M45.5 159v3M168.5 230v2M220.5 276v3M243.5 259v3M966.5 475v3M1181.5 400v2M1014.5 407v2M2.5 174v2M74.5 199v2M1122.5 471v2M1197.5 385v2M1200.5 390v2M837.5 487v2M94.5 150v2M41.5 144v4M247.5 248v3M616.5 231v3M191.5 204v2M1150.5 430v2M1251.5 333v2M1244.5 330v2M234.5 286v2M822.5 457v5M754.5 321v2M692.5 346v3M329.5 294v2M757.5 327v2M37.5 123v4M633.5 296v3M911.5 507v2M155.5 264v3M609.5 205v2M1240.5 336v3M325.5 301v2M894.5 459v2M337.5 276v3M377.5 312v3M612.5 215v4M1133.5 474v2M774.5 392v4M918.5 523v3M85.5 175v2M626.5 271v3M871.5 447v2M321.5 309v2M1272.5 381v3M741.5 336v5M1002.5 378v2M651.5 299v2M202.5 208v3M246.5 251v2M922.5 533v2M1149.5 432v2M215.5 262v3M550.5 253v4M986.5 410v5M1099.5 431v2M1009.5 394v2M770.5 376v4M219.5 273v3M225.5 290v3M824.5 468v5M1225.5 403v4M1124.5 474v2M1199.5 388v2M1071.5 466v2M681.5 317v2M684.5 323v2M162.5 246v2M560.5 293v3M1206.5 403v2M1253.5 336v2M1035.5 378v2M276.5 246v4M1098.5 433v2M441.5 313v2M756.5 325v2M936.5 521v2M1260.5 351v2M607.5 201v2M1183.5 396v2M910.5 504v3M459.5 339v3M111.5 150v4M211.5 236v4M588.5 223v5M1094.5 441v2M1063.5 452v2M1224.5 407v4M124.5 210v5M665.5 298v2M827.5 482v4M779.5 406v3M489.5 343v2M42.5 148v3M161.5 248v3M193.5 201v2M959.5 493v2M207.5 221v3M739.5 346v4M365.5 285v2M1034.5 380v2M295.5 306v2M386.5 343v4M935.5 523v2M984.5 420v5M137.5 255v2M1178.5 406v2M613.5 219v5M682.5 319v2M700.5 373v2M711.5 381v2M689.5 336v4M902.5 479v3M1208.5 406v2M630.5 285v4M551.5 257v4M954.5 502v2M1115.5 456v2M110.5 147v3M1065.5 456v2M231.5 293v2M1062.5 450v2M623.5 259v4M1177.5 408v3M1222.5 416v3M259.5 225v2M970.5 465v2M291.5 292v4M1088.5 456v3M564.5 307v4M367.5 288v2M294.5 303v3M340.5 270v2M1226.5 399v4M1291.5 384v2M737.5 355v5M374.5 304v3M324.5 303v2M230.5 295v2M557.5 281v4M897.5 465v3M125.5 215v4M54.5 191v3M238.5 276v3M143.5 267v2M1044.5 376v2M205.5 216v3M359.5 273v2M688.5 333v3M525.5 306v4M901.5 476v3M1148.5 434v2M969.5 467v2M258.5 227v2M452.5 321v3M1107.5 438v3M399.5 350v4M1087.5 459v4M517.5 343v4M553.5 265v4M456.5 332v2M254.5 233v2M1114.5 454v2M1290.5 386v2M1095.5 439v2M154.5 267v2M463.5 348v2M466.5 354v2M534.5 264v5M286.5 278v2M874.5 448v2M237.5 279v3M383.5 332v4M290.5 289v3M128.5 228v4M968.5 469v3M635.5 302v3M36.5 121v2M850.5 455v2M976.5 451v2M638.5 311v2M932.5 529v2M776.5 398v3M1267.5 369v3M896.5 463v2M735.5 366v5M917.5 521v2M496.5 349v2M53.5 187v4M676.5 315v2M1090.5 449v3M1274.5 386v2M500.5 355v2M1043.5 374v2M204.5 213v3M358.5 271v2M20.5 131v4M1004.5 382v3M217.5 268v2M1011.5 399v3M565.5 311v4M992.5 384v3M1112.5 450v2M1015.5 409v2M975.5 453v2M931.5 531v2M943.5 505v3M558.5 285v4M1190.5 382v2M1201.5 392v2M288.5 282v3M790.5 411v2M285.5 275v3M581.5 275v4M765.5 354v5M703.5 379v2M561.5 296v4M117.5 175v5M382.5 329v3M1255.5 339v2M738.5 350v5M554.5 269v4M1262.5 356v3M1052.5 403v4M883.5 444v2M761.5 338v3M1266.5 367v2M930.5 533v2M836.5 489v2M828.5 486v3M942.5 508v2M962.5 486v3M1029.5 396v4M1189.5 384v2M1041.5 370v2M356.5 267v2M778.5 404v2M1273.5 384v2M58.5 201v2M81.5 184v2M733.5 375v4M1048.5 387v4M589.5 217v6M1185.5 392v2M1010.5 396v3M132.5 242v3M1145.5 440v2M1239.5 339v5M280.5 262v4M1299.5 390v2M391.5 358v3M229.5 297v2M521.5 324v5M1017.5 412v2M136.5 253v2M336.5 279v2M1121.5 469v2M139.5 259v2M115.5 167v4M702.5 377v2M961.5 489v2M320.5 311v3M13.5 160v4M1210.5 410v2M1257.5 343v2M80.5 186v2M579.5 284v4M88.5 168v2M1261.5 353v3M253.5 235v2M1144.5 442v2M17.5 143v4M885.5 448v2M50.5 176v4M792.5 405v3M1064.5 454v2M249.5 242v3M989.5 396v5M655.5 291v2M429.5 330v2M296.5 308v2M131.5 240v2M87.5 170v2M1143.5 444v3M1031.5 389v4M138.5 257v2M672.5 307v2M71.5 203v2M379.5 319v3M683.5 321v2M846.5 464v2M972.5 460v2M810.5 398v3M715.5 388v2M519.5 334v4M160.5 251v2M264.5 228v2M1209.5 408v2M1108.5 441v2M906.5 492v4M1026.5 407v2M1049.5 391v4M424.5 338v2M1059.5 440v5M458.5 337v2M730.5 387v2M536.5 256v4M281.5 266v2M227.5 296v3M465.5 352v2M586.5 234v5M726.5 393v2M1038.5 372v2M271.5 236v2M939.5 515v2M274.5 240v2M368.5 290v2M861.5 451v2M277.5 250v4M729.5 389v2M302.5 321v2M352.5 258v2M1269.5 374v2M714.5 386v2M1188.5 386v2M919.5 526v2M1006.5 387v2M77.5 193v2M222.5 282v3M1117.5 460v2M434.5 323v2M226.5 293v3M698.5 369v2M467.5 356v2M1203.5 397v2M287.5 280v2M618.5 237v3M332.5 288v2M994.5 380v2M186.5 211v2M1171.5 426v3M373.5 301v3M76.5 195v2M839.5 482v3M965.5 478v2M654.5 293v2M84.5 177v2M1140.5 451v4M1152.5 426v2M780.5 409v2M1046.5 380v3M236.5 282v2M60.5 205v2M769.5 372v4M331.5 290v2M46.5 162v4M157.5 258v3M417.5 334v2M221.5 279v3M1135.5 470v2M134.5 247v3M481.5 354v2M185.5 213v2M75.5 197v2M515.5 352v4M838.5 485v2M697.5 365v4M240.5 269v3M181.5 220v2M653.5 295v2M83.5 179v2M248.5 245v3M401.5 345v2M1151.5 428v2M1089.5 452v4M686.5 327v3M617.5 234v3M91.5 159v4M1256.5 341v2M454.5 327v3M423.5 340v2M758.5 329v3M156.5 261v3M184.5 215v2M338.5 274v2M1134.5 472v2M912.5 509v3M461.5 344v2M884.5 446v2M775.5 396v2M164.5 241v3M322.5 307v2M1066.5 458v2M1276.5 390v2M996.5 376v2M163.5 244v2M685.5 325v2M1184.5 394v2M995.5 378v2M859.5 454v2M1068.5 461v2M486.5 347v2M369.5 292v2M328.5 296v2M716.5 390v2M650.5 301v2M1170.5 429v2M1116.5 458v2M1097.5 435v2M404.5 341v2M829.5 489v2M502.5 359v2M1045.5 378v2M1252 335.5h1M506 365.5h2M509 365.5h1M541 243.5h2M545 243.5h1M1101 431.5h1M599 195.5h1M601 195.5h2M438 318.5h1M568 318.5h1M420 339.5h1M660 293.5h1M1192 383.5h3M1292 383.5h1M797 397.5h2M808 397.5h2M171 227.5h1M263 227.5h1M442 312.5h1M642 312.5h1M953 504.5h1M422 342.5h1M490 342.5h1M194 200.5h4M403 343.5h1M491 343.5h1M720 394.5h2M802 394.5h3M1279 394.5h2M1283 394.5h2M316 320.5h1M752 320.5h2M408 336.5h1M418 336.5h1M892 456.5h1M468 358.5h1M478 358.5h1M649 303.5h1M669 303.5h1M147 269.5h5M341 269.5h1M351 259.5h1M945 503.5h2M951 503.5h2M449 316.5h1M677 316.5h4M783 412.5h7M1023 412.5h1M923 535.5h2M927 535.5h2M176 223.5h3M722 395.5h2M725 395.5h1M800 395.5h2M805 395.5h2M1281 395.5h2M1219 420.5h2M64 207.5h5M189 207.5h1M600 194.5h1M303 322.5h11M435 322.5h1M748 322.5h2M853 453.5h1M860 453.5h1M888 453.5h1M851 454.5h2M854 454.5h1M889 454.5h2M717 392.5h1M727 392.5h1M1287 392.5h1M1300 392.5h1M1067 460.5h1M487 346.5h1M493 346.5h1M440 315.5h1M447 315.5h2M1195 384.5h2M1293 384.5h1M252 237.5h1M4 177.5h5M1126 477.5h3M1077 472.5h1M1100 430.5h1M1158 430.5h12M1248 331.5h2M1084 465.5h2M98 146.5h1M109 146.5h1M1069 463.5h1M1072 468.5h1M1081 468.5h1M1073 469.5h1M1080 469.5h1M494 347.5h1M172 226.5h1M262 226.5h1M1207 405.5h1M495 348.5h1M1103 433.5h1M999 375.5h2M99 145.5h1M107 145.5h2M145 270.5h2M1221 419.5h1M445 314.5h2M640 314.5h1M103 142.5h2M101 143.5h2M105 143.5h1M567 317.5h1M410 333.5h7M1242 333.5h1M658 291.5h1M1125 476.5h1M1129 476.5h4M728 391.5h1M704 380.5h7M497 351.5h1M1246 330.5h2M646 307.5h1M443 313.5h2M639 313.5h1M641 313.5h1M61 206.5h3M69 206.5h1M190 206.5h1M100 144.5h1M106 144.5h1M32 115.5h1M437 319.5h1M569 319.5h1M891 455.5h1M867 445.5h1M869 445.5h1M255 232.5h1M267 232.5h1M314 321.5h2M750 321.5h2M1295 386.5h1M479 357.5h1M97 147.5h1M887 452.5h1M430 329.5h1M1245 329.5h1M174 224.5h2M260 224.5h1M428 332.5h1M1243 332.5h1M1250 332.5h1M505 364.5h1M510 364.5h2M1216 421.5h1M1218 421.5h1M1020 413.5h3M394 361.5h2M472 361.5h1M474 361.5h1M1074 470.5h2M1079 470.5h1M1040 369.5h1M1076 471.5h1M1078 471.5h1M348 262.5h1M863 448.5h1M269 234.5h1M1297 388.5h1M596 197.5h2M1298 389.5h1M1198 387.5h1M1296 387.5h1M402 344.5h1M173 225.5h1M261 225.5h1M1102 432.5h1M1082 467.5h1M96 148.5h1M873 450.5h1M1155 428.5h1M955 501.5h1M31 116.5h1M469 359.5h1M476 359.5h2M657 290.5h1M431 328.5h1M925 536.5h2M1104 434.5h1M483 352.5h1M498 352.5h1M187 210.5h1M1105 435.5h1M183 217.5h1M663 296.5h1M73 201.5h1M198 201.5h1M664 297.5h1M832 495.5h1M1217 422.5h1M647 306.5h1M745 324.5h1M856 457.5h1M407 337.5h1M425 337.5h1M1191 382.5h1M864 447.5h1M875 447.5h1M713 385.5h1M1294 385.5h1M998 374.5h1M508 366.5h1M265 230.5h1M25 118.5h5M1083 466.5h1M878 442.5h2M724 396.5h1M799 396.5h1M807 396.5h1M169 229.5h1M257 229.5h1M857 458.5h1M880 443.5h3M95 149.5h1M488 345.5h1M192 203.5h1M152 268.5h2M342 268.5h1M30 117.5h1M396 360.5h1M470 360.5h2M475 360.5h1M667 301.5h1M668 302.5h1M349 261.5h1M346 264.5h1M659 292.5h1M598 196.5h1M603 196.5h2M1153 427.5h2M781 411.5h2M1016 411.5h1M872 449.5h1M1 173.5h1M670 304.5h1M718 393.5h2M1278 393.5h1M1285 393.5h2M796 398.5h1M661 294.5h1M662 295.5h1M1018 414.5h2M393 362.5h1M473 362.5h1M3 176.5h1M543 242.5h2M480 356.5h1M595 198.5h1M70 205.5h1M270 235.5h1M345 265.5h1M644 309.5h1M326 300.5h1M666 300.5h1M1156 429.5h2M504 363.5h1M512 363.5h1M865 446.5h2M870 446.5h1M272 238.5h1M795 399.5h1M482 353.5h1M433 325.5h1M72 202.5h1M347 263.5h1M485 349.5h1M834 492.5h1M1025 409.5h1M594 199.5h1M179 222.5h2M868 444.5h1M547 245.5h1M266 231.5h1M746 323.5h2M947 502.5h4M1254 338.5h1M1214 418.5h1M268 233.5h1M170 228.5h1M1123 473.5h1M343 267.5h1M645 308.5h1M405 340.5h1M350 260.5h1M273 239.5h1M366 287.5h1M835 491.5h1M929 534.5h1M546 244.5h1M344 266.5h1" stroke="#ffa500" stroke-width="1" fill="none"/>
<g class="ce"><rect x="1" y="253" width="1637" height="2" fill="#ff0000"/></g>
<g class="ce"><rect x="1" y="331" width="1637" height="2" fill="#ff0000"/><rect x="0" y="329" width="6" height="6" fill="#ff0000"/><rect x="2" y="331" width="2" height="2" fill="#fff"/><rect x="1631" y="329" width="6" height="6" fill="#ff0000"/><rect x="1633" y="331" width="2" height="2" fill="#fff"/></g>
<g class="ce"><rect x="1" y="407" width="1637" height="2" fill="#00ff00"/><rect x="0" y="405" width="6" height="6" fill="#00ff00"/><rect x="2" y="407" width="2" height="2" fill="#fff"/><rect x="1631" y="405" width="6" height="6" fill="#00ff00"/><rect x="1633" y="407" width="2" height="2" fill="#fff"/></g>
<g class="ce"><rect x="1" y="483" width="1637" height="2" fill="#0000cd"/><rect x="0" y="481" width="6" height="6" fill="#0000cd"/><rect x="2" y="483" width="2" height="2" fill="#fff"/><rect x="1631" y="481" width="6" height="6" fill="#0000cd"/><rect x="1633" y="483" width="2" height="2" fill="#fff"/></g>
<g class="ce"><rect x="1" y="574" width="1637" height="2" fill="#0000cd"/></g>
<rect class="ce" x="1639" y="409" width="39" height="11" fill="#000"/><text style="fill:#fff;stroke:#fff" transform="translate(1643.6,418) scale(1,1.04)">1.10923</text>
<rect class="ce" x="1639" y="248" width="39" height="11" fill="#ff0000"/><text style="fill:#fff;stroke:#fff" transform="translate(1643.6,257) scale(1,1.04)">1.13034</text>
<rect class="ce" x="1639" y="326" width="39" height="11" fill="#ff0000"/><text style="fill:#fff;stroke:#fff" transform="translate(1643.6,335) scale(1,1.04)">1.12005</text>
<rect class="ce" x="1639" y="402" width="39" height="11" fill="#00ff00"/><text style="fill:#fff;stroke:#fff" transform="translate(1643.6,411) scale(1,1.04)">1.11009</text>
<rect class="ce" x="1639" y="478" width="39" height="11" fill="#0000cd"/><text style="fill:#fff;stroke:#fff" transform="translate(1643.6,487) scale(1,1.04)">1.10008</text>
<rect class="ce" x="1639" y="569" width="39" height="11" fill="#0000cd"/><text style="fill:#fff;stroke:#fff" transform="translate(1643.6,578) scale(1,1.04)">1.08800</text>
<path class="ce" d="M1170.5 637v2M357.5 650v2M263.5 643v4M1247.5 634v2M1295.5 646v2M729.5 643v2M874.5 652v2M1190.5 630v2M395.5 654v2M832.5 656v3M334.5 645v2M303.5 657v2M854.5 652v2M1224.5 634v3M573.5 638v2M1003.5 636v2M721.5 658v2M497.5 657v2M1261.5 644v2M1044.5 643v4M927.5 655v2M831.5 659v4M1078.5 655v3M1151.5 641v2M858.5 653v3M72.5 647v2M682.5 656v2M371.5 651v2M212.5 661v3M1104.5 650v2M888.5 652v2M1257.5 635v2M720.5 660v3M356.5 648v2M264.5 647v4M569.5 648v2M716.5 667v2M1294.5 644v2M226.5 659v3M40.5 648v2M423.5 650v2M830.5 663v4M1077.5 658v2M93.5 636v2M495.5 653v2M621.5 648v2M800.5 650v2M739.5 640v2M276.5 650v2M872.5 652v2M225.5 662v2M1149.5 637v2M639.5 652v2M1225.5 632v2M553.5 647v2M681.5 654v2M213.5 664v2M829.5 667v2M506.5 652v2M814.5 661v2M1137.5 639v2M886.5 648v2M1172.5 634v2M271.5 647v2M887.5 650v2M609.5 642v2M305.5 652v2M534.5 624v2M545.5 633v2M703.5 661v2M335.5 643v2M16.5 634v2M947.5 650v2M195.5 641v2M198.5 646v2M798.5 647v2M1136.5 641v3M1042.5 635v4M1193.5 636v2M1296.5 648v2M726.5 653v4M847.5 651v2M8.5 639v2M535.5 626v2M512.5 642v2M922.5 662v2M196.5 643v2M1200.5 643v2M71.5 649v2M508.5 649v2M524.5 629v2M683.5 658v2M405.5 650v2M793.5 646v2M7.5 641v2M1041.5 632v3M877.5 646v2M659.5 651v2M1249.5 638v2M1191.5 632v2M1297.5 650v2M511.5 644v2M1192.5 634v2M640.5 650v2M70.5 651v2M321.5 646v2M496.5 655v2M791.5 651v3M480.5 647v2M719.5 663v2M397.5 650v2M1198.5 639v2M1081.5 648v2M549.5 638v2M1199.5 641v2M1153.5 645v2M576.5 633v2M210.5 655v3M684.5 660v2M370.5 649v2M685.5 662v2M320.5 648v2M606.5 633v3M572.5 640v3M735.5 640v2M951.5 650v2M1080.5 650v3M319.5 650v2M623.5 652v2M228.5 653v3M1045.5 647v3M551.5 642v3M209.5 653v2M372.5 653v2M930.5 651v2M399.5 646v2M980.5 629v2M227.5 656v3M976.5 635v2M155.5 650v2M857.5 656v2M755.5 644v2M1101.5 644v2M1245.5 630v2M625.5 656v2M337.5 639v2M728.5 645v4M1150.5 639v2M1287.5 644v2M1259.5 639v3M336.5 641v2M860.5 647v3M199.5 648v2M932.5 648v2M1221.5 642v2M1088.5 643v2M955.5 644v2M1133.5 650v2M522.5 632v2M274.5 646v2M536.5 628v2M725.5 657v2M353.5 641v2M91.5 640v2M398.5 648v2M562.5 647v2M641.5 648v2M15.5 636v2M378.5 659v2M451.5 650v2M1135.5 644v3M876.5 648v2M90.5 642v2M861.5 645v2M302.5 659v3M564.5 650v2M727.5 649v4M301.5 662v2M856.5 655v2M1103.5 648v2M571.5 643v2M624.5 654v2M954.5 646v2M510.5 646v2M859.5 650v3M1079.5 653v2M1152.5 643v2M605.5 631v2M1258.5 637v2M570.5 645v3M148.5 657v2M718.5 665v3M790.5 654v3M103.5 640v2M638.5 654v2M713.5 661v2M147.5 659v2M37.5 644v2M265.5 651v3M789.5 657v2M550.5 640v2M394.5 656v2M1223.5 637v2M637.5 656v2M493.5 649v2M318.5 652v2M146.5 661v2M758.5 648v2M355.5 645v3M515.5 638v2M1179.5 632v2M658.5 649v2M559.5 648v2M1201.5 645v2M525.5 627v2M760.5 651v2M262.5 639v4M608.5 639v3M354.5 643v2M478.5 650v2M304.5 654v3M574.5 636v2M402.5 644v2M869.5 647v2M660.5 653v2M1246.5 632v2M200.5 650v2M211.5 658v3M14.5 638v2M903.5 656v2M1222.5 639v3M261.5 637v2M607.5 636v3M317.5 654v2M1134.5 647v3M1260.5 642v2M131.5 661v2M404.5 648v2M1043.5 639v4M229.5 651v2M792.5 648v3M6.5 643v2M1248.5 636v2M924.5 659v2M715.5 665v2M974.5 638v2M494.5 651v2M400.5 644v2M875.5 650v2M396.5 652v2M23.5 635v2M1102.5 646v2M380.5 662v2M714.5 663v2M717.5 668v2M622.5 650v2M816.5 664v2M127.5 661v2M956.5 642v2M275.5 648v2M871.5 650v2M978.5 632v2M552.5 645v2M92.5 638v2M194.5 639v2M403.5 646v2M49 653.5h3M55 653.5h4M61 653.5h1M69 653.5h1M115 653.5h1M153 653.5h1M202 653.5h1M278 653.5h1M306 653.5h1M359 653.5h2M362 653.5h1M421 653.5h1M453 653.5h1M476 653.5h1M663 653.5h1M671 653.5h8M761 653.5h1M802 653.5h1M838 653.5h3M846 653.5h1M890 653.5h2M894 653.5h1M900 653.5h1M929 653.5h1M949 653.5h1M1053 653.5h1M1108 653.5h2M1126 653.5h1M1300 653.5h2M2 644.5h2M75 644.5h2M85 644.5h3M106 644.5h1M179 644.5h2M241 644.5h2M246 644.5h1M324 644.5h2M429 644.5h1M442 644.5h1M483 644.5h2M486 644.5h1M610 644.5h2M1095 644.5h2M1098 644.5h2M1159 644.5h1M1219 644.5h2M118 656.5h1M149 656.5h1M205 656.5h1M281 656.5h2M374 656.5h1M457 656.5h2M462 656.5h1M468 656.5h6M502 656.5h1M628 656.5h4M765 656.5h1M807 656.5h3M1056 656.5h1M1062 656.5h1M1067 656.5h2M1118 656.5h1M1123 656.5h1M38 646.5h1M73 646.5h1M108 646.5h1M160 646.5h6M176 646.5h2M238 646.5h2M272 646.5h1M328 646.5h3M427 646.5h1M444 646.5h1M481 646.5h1M488 646.5h1M561 646.5h1M614 646.5h1M652 646.5h1M654 646.5h1M756 646.5h1M794 646.5h4M867 646.5h2M878 646.5h5M1085 646.5h2M1154 646.5h4M1208 646.5h1M1215 646.5h3M1262 646.5h1M1278 646.5h2M1282 646.5h2M1286 646.5h1M47 652.5h2M52 652.5h3M62 652.5h2M67 652.5h2M114 652.5h1M154 652.5h1M201 652.5h1M266 652.5h1M277 652.5h1M358 652.5h1M363 652.5h1M406 652.5h2M419 652.5h2M422 652.5h1M452 652.5h1M477 652.5h1M565 652.5h1M664 652.5h1M667 652.5h4M801 652.5h1M892 652.5h2M948 652.5h1M950 652.5h1M1052 652.5h1M1106 652.5h2M1127 652.5h1M1298 652.5h2M539 629.5h3M580 629.5h1M588 629.5h3M594 629.5h1M994 629.5h2M1030 629.5h2M1035 629.5h3M1189 629.5h1M1229 629.5h1M1244 629.5h1M35 642.5h1M78 642.5h1M83 642.5h1M104 642.5h1M182 642.5h1M249 642.5h1M349 642.5h2M431 642.5h2M434 642.5h2M734 642.5h1M740 642.5h1M742 642.5h2M746 642.5h2M751 642.5h3M1009 642.5h5M1089 642.5h5M1161 642.5h1M1289 642.5h2M111 649.5h1M156 649.5h1M231 649.5h1M270 649.5h1M366 649.5h2M424 649.5h1M450 649.5h1M479 649.5h1M492 649.5h1M554 649.5h1M563 649.5h1M617 649.5h2M647 649.5h3M799 649.5h1M849 649.5h1M870 649.5h1M935 649.5h2M938 649.5h2M946 649.5h1M952 649.5h1M1046 649.5h4M1205 649.5h1M1266 649.5h1M1272 649.5h2M10 639.5h2M26 639.5h2M102 639.5h1M185 639.5h2M255 639.5h3M344 639.5h2M736 639.5h1M738 639.5h1M959 639.5h2M966 639.5h1M1005 639.5h1M1018 639.5h1M1138 639.5h1M1164 639.5h1M1167 639.5h3M1250 639.5h4M1 643.5h1M36 643.5h1M77 643.5h1M84 643.5h1M88 643.5h2M105 643.5h1M181 643.5h1M247 643.5h2M401 643.5h1M430 643.5h1M436 643.5h6M485 643.5h1M730 643.5h4M741 643.5h1M748 643.5h3M754 643.5h1M1094 643.5h1M1100 643.5h1M1160 643.5h1M1288 643.5h1M1291 643.5h3M117 655.5h1M150 655.5h1M204 655.5h1M206 655.5h1M280 655.5h1M309 655.5h8M373 655.5h1M455 655.5h2M463 655.5h2M466 655.5h2M474 655.5h1M503 655.5h2M661 655.5h1M763 655.5h2M805 655.5h2M833 655.5h2M843 655.5h2M897 655.5h1M902 655.5h1M1055 655.5h1M1063 655.5h2M1066 655.5h1M1112 655.5h6M1124 655.5h1M43 651.5h4M64 651.5h1M66 651.5h1M113 651.5h1M267 651.5h2M364 651.5h1M408 651.5h3M418 651.5h1M507 651.5h1M557 651.5h1M566 651.5h1M665 651.5h2M852 651.5h2M1051 651.5h1M1105 651.5h1M1128 651.5h1M1131 651.5h2M1269 651.5h1M583 627.5h3M982 627.5h1M991 627.5h2M1232 627.5h2M1242 627.5h1M39 647.5h1M109 647.5h1M158 647.5h2M166 647.5h2M174 647.5h2M233 647.5h2M237 647.5h1M331 647.5h3M426 647.5h1M445 647.5h1M489 647.5h1M560 647.5h1M615 647.5h1M651 647.5h1M655 647.5h2M757 647.5h1M883 647.5h3M933 647.5h1M1083 647.5h2M1202 647.5h1M1207 647.5h1M1263 647.5h2M1276 647.5h2M1284 647.5h2M17 633.5h5M1000 633.5h1M1026 633.5h1M1173 633.5h1M1183 633.5h2M121 658.5h3M286 658.5h2M377 658.5h1M393 658.5h1M498 658.5h1M707 658.5h2M722 658.5h3M767 658.5h2M772 658.5h12M787 658.5h2M811 658.5h1M904 658.5h1M925 658.5h1M1071 658.5h4M1121 658.5h1M59 654.5h2M116 654.5h1M151 654.5h2M203 654.5h1M207 654.5h2M279 654.5h1M307 654.5h2M361 654.5h1M454 654.5h1M465 654.5h1M475 654.5h1M505 654.5h1M662 654.5h1M679 654.5h2M762 654.5h1M803 654.5h2M835 654.5h3M841 654.5h2M845 654.5h1M855 654.5h1M873 654.5h1M889 654.5h1M895 654.5h2M898 654.5h2M901 654.5h1M928 654.5h1M1054 654.5h1M1065 654.5h1M1110 654.5h2M1125 654.5h1M110 648.5h1M157 648.5h1M168 648.5h6M232 648.5h1M235 648.5h2M368 648.5h2M425 648.5h1M446 648.5h4M490 648.5h2M509 648.5h1M616 648.5h1M619 648.5h2M642 648.5h5M650 648.5h1M657 648.5h1M934 648.5h1M940 648.5h6M953 648.5h1M1082 648.5h1M1203 648.5h2M1206 648.5h1M1265 648.5h1M1274 648.5h2M124 659.5h2M133 659.5h1M288 659.5h3M391 659.5h2M705 659.5h2M709 659.5h2M769 659.5h3M812 659.5h1M905 659.5h2M1075 659.5h2M119 657.5h2M283 657.5h3M375 657.5h2M459 657.5h3M499 657.5h3M626 657.5h2M632 657.5h5M766 657.5h1M784 657.5h3M810 657.5h1M926 657.5h1M1057 657.5h5M1069 657.5h2M1119 657.5h2M1122 657.5h1M30 641.5h2M34 641.5h1M79 641.5h2M82 641.5h1M183 641.5h1M250 641.5h2M340 641.5h2M347 641.5h2M351 641.5h2M433 641.5h1M513 641.5h1M744 641.5h2M957 641.5h1M969 641.5h2M1007 641.5h2M1014 641.5h2M1162 641.5h1M537 630.5h2M542 630.5h1M579 630.5h1M595 630.5h1M996 630.5h2M1029 630.5h1M1038 630.5h1M1177 630.5h1M1187 630.5h2M1227 630.5h2M9 638.5h1M25 638.5h1M99 638.5h3M187 638.5h7M258 638.5h2M737 638.5h1M961 638.5h5M1004 638.5h1M1019 638.5h1M1139 638.5h4M1165 638.5h2M1195 638.5h3M1254 638.5h1M126 660.5h1M132 660.5h1M134 660.5h2M291 660.5h4M390 660.5h1M704 660.5h1M711 660.5h2M813 660.5h1M907 660.5h11M24 637.5h1M95 637.5h4M260 637.5h1M516 637.5h1M548 637.5h1M975 637.5h1M1020 637.5h1M1143 637.5h4M1194 637.5h1M1255 637.5h1M526 626.5h1M983 626.5h2M990 626.5h1M1234 626.5h1M1240 626.5h2M41 650.5h2M65 650.5h1M112 650.5h1M230 650.5h1M269 650.5h1M365 650.5h1M411 650.5h7M555 650.5h2M558 650.5h1M567 650.5h2M759 650.5h1M848 650.5h1M850 650.5h2M931 650.5h1M937 650.5h1M1050 650.5h1M1129 650.5h2M1267 650.5h2M1270 650.5h2M4 645.5h2M74 645.5h1M107 645.5h1M178 645.5h1M197 645.5h1M240 645.5h1M243 645.5h3M273 645.5h1M322 645.5h2M326 645.5h2M428 645.5h1M443 645.5h1M482 645.5h1M487 645.5h1M612 645.5h2M653 645.5h1M862 645.5h5M1087 645.5h1M1097 645.5h1M1158 645.5h1M1209 645.5h6M1218 645.5h1M1280 645.5h2M12 640.5h2M28 640.5h2M32 640.5h2M81 640.5h1M184 640.5h1M252 640.5h3M338 640.5h2M342 640.5h2M346 640.5h1M514 640.5h1M958 640.5h1M967 640.5h2M971 640.5h3M1006 640.5h1M1016 640.5h2M1163 640.5h1M581 628.5h2M586 628.5h2M591 628.5h3M981 628.5h1M993 628.5h1M1032 628.5h3M1230 628.5h2M1243 628.5h1M529 624.5h2M986 624.5h2M1237 624.5h1M136 661.5h3M295 661.5h3M379 661.5h1M385 661.5h5M693 661.5h1M918 661.5h1M923 661.5h1M544 632.5h1M577 632.5h1M597 632.5h2M999 632.5h1M1027 632.5h1M1174 632.5h1M1185 632.5h1M128 663.5h1M130 663.5h1M143 663.5h3M216 663.5h3M223 663.5h2M300 663.5h1M382 663.5h1M686 663.5h1M690 663.5h1M695 663.5h1M702 663.5h1M815 663.5h1M920 663.5h1M523 631.5h1M543 631.5h1M578 631.5h1M596 631.5h1M599 631.5h6M979 631.5h1M998 631.5h1M1028 631.5h1M1039 631.5h2M1175 631.5h2M1178 631.5h1M1186 631.5h1M1226 631.5h1M129 664.5h1M214 664.5h2M381 664.5h1M687 664.5h3M696 664.5h1M699 664.5h3M921 664.5h1M22 634.5h1M520 634.5h2M977 634.5h1M1001 634.5h1M1024 634.5h2M1180 634.5h1M1182 634.5h1M139 662.5h4M219 662.5h4M298 662.5h2M383 662.5h2M691 662.5h2M694 662.5h1M919 662.5h1M819 668.5h2M827 668.5h2M94 636.5h1M517 636.5h1M547 636.5h1M1021 636.5h1M1147 636.5h2M1171 636.5h1M1256 636.5h1M527 625.5h2M985 625.5h1M988 625.5h2M1235 625.5h2M1238 625.5h2M821 669.5h6M518 635.5h2M546 635.5h1M575 635.5h1M1002 635.5h1M1022 635.5h2M1181 635.5h1M697 665.5h2M817 666.5h1M531 623.5h3M818 667.5h1" stroke="#1e90ff" stroke-width="1" fill="none"/>
<g class="ce" clip-path="url(#cd)"><rect x="1" y="734" width="1" height="15" fill="#c0c0c0"/><rect x="5" y="738" width="1" height="11" fill="#c0c0c0"/><rect x="9" y="734" width="1" height="15" fill="#c0c0c0"/><rect x="13" y="733" width="1" height="16" fill="#c0c0c0"/><rect x="17" y="727" width="1" height="22" fill="#c0c0c0"/><rect x="21" y="721" width="1" height="28" fill="#c0c0c0"/><rect x="25" y="720" width="1" height="29" fill="#c0c0c0"/><rect x="29" y="721" width="1" height="28" fill="#c0c0c0"/><rect x="33" y="722" width="1" height="27" fill="#c0c0c0"/><rect x="37" y="726" width="1" height="23" fill="#c0c0c0"/><rect x="41" y="732" width="1" height="17" fill="#c0c0c0"/><rect x="45" y="738" width="1" height="11" fill="#c0c0c0"/><rect x="49" y="744" width="1" height="5" fill="#c0c0c0"/><rect x="53" y="748" width="1" height="1" fill="#c0c0c0"/><rect x="57" y="748" width="1" height="5" fill="#c0c0c0"/><rect x="61" y="748" width="1" height="9" fill="#c0c0c0"/><rect x="65" y="748" width="1" height="10" fill="#c0c0c0"/><rect x="69" y="748" width="1" height="13" fill="#c0c0c0"/><rect x="73" y="748" width="1" height="11" fill="#c0c0c0"/><rect x="77" y="748" width="1" height="9" fill="#c0c0c0"/><rect x="81" y="748" width="1" height="5" fill="#c0c0c0"/><rect x="85" y="748" width="1" height="3" fill="#c0c0c0"/><rect x="89" y="748" width="1" height="1" fill="#c0c0c0"/><rect x="93" y="744" width="1" height="5" fill="#c0c0c0"/><rect x="97" y="740" width="1" height="9" fill="#c0c0c0"/><rect x="101" y="738" width="1" height="11" fill="#c0c0c0"/><rect x="105" y="739" width="1" height="10" fill="#c0c0c0"/><rect x="109" y="741" width="1" height="8" fill="#c0c0c0"/><rect x="113" y="746" width="1" height="3" fill="#c0c0c0"/><rect x="117" y="748" width="1" height="3" fill="#c0c0c0"/><rect x="121" y="748" width="1" height="9" fill="#c0c0c0"/><rect x="125" y="748" width="1" height="15" fill="#c0c0c0"/><rect x="129" y="748" width="1" height="23" fill="#c0c0c0"/><rect x="133" y="748" width="1" height="27" fill="#c0c0c0"/><rect x="137" y="748" width="1" height="31" fill="#c0c0c0"/><rect x="141" y="748" width="1" height="33" fill="#c0c0c0"/><rect x="145" y="748" width="1" height="37" fill="#c0c0c0"/><rect x="149" y="748" width="1" height="36" fill="#c0c0c0"/><rect x="153" y="748" width="1" height="35" fill="#c0c0c0"/><rect x="157" y="748" width="1" height="31" fill="#c0c0c0"/><rect x="161" y="748" width="1" height="27" fill="#c0c0c0"/><rect x="165" y="748" width="1" height="23" fill="#c0c0c0"/><rect x="169" y="748" width="1" height="20" fill="#c0c0c0"/><rect x="173" y="748" width="1" height="19" fill="#c0c0c0"/><rect x="177" y="748" width="1" height="15" fill="#c0c0c0"/><rect x="181" y="748" width="1" height="13" fill="#c0c0c0"/><rect x="185" y="748" width="1" height="8" fill="#c0c0c0"/><rect x="189" y="748" width="1" height="4" fill="#c0c0c0"/><rect x="193" y="748" width="1" height="1" fill="#c0c0c0"/><rect x="197" y="748" width="1" height="1" fill="#c0c0c0"/><rect x="201" y="748" width="1" height="4" fill="#c0c0c0"/><rect x="205" y="748" width="1" height="7" fill="#c0c0c0"/><rect x="209" y="748" width="1" height="9" fill="#c0c0c0"/><rect x="213" y="748" width="1" height="17" fill="#c0c0c0"/><rect x="217" y="748" width="1" height="23" fill="#c0c0c0"/><rect x="221" y="748" width="1" height="27" fill="#c0c0c0"/><rect x="225" y="748" width="1" height="31" fill="#c0c0c0"/><rect x="229" y="748" width="1" height="30" fill="#c0c0c0"/><rect x="233" y="748" width="1" height="26" fill="#c0c0c0"/><rect x="237" y="748" width="1" height="23" fill="#c0c0c0"/><rect x="241" y="748" width="1" height="18" fill="#c0c0c0"/><rect x="245" y="748" width="1" height="15" fill="#c0c0c0"/><rect x="249" y="748" width="1" height="11" fill="#c0c0c0"/><rect x="253" y="748" width="1" height="7" fill="#c0c0c0"/><rect x="257" y="748" width="1" height="3" fill="#c0c0c0"/><rect x="261" y="748" width="1" height="2" fill="#c0c0c0"/><rect x="265" y="748" width="1" height="3" fill="#c0c0c0"/><rect x="269" y="748" width="1" height="5" fill="#c0c0c0"/><rect x="273" y="748" width="1" height="4" fill="#c0c0c0"/><rect x="277" y="748" width="1" height="7" fill="#c0c0c0"/><rect x="281" y="748" width="1" height="11" fill="#c0c0c0"/><rect x="285" y="748" width="1" height="15" fill="#c0c0c0"/><rect x="289" y="748" width="1" height="20" fill="#c0c0c0"/><rect x="293" y="748" width="1" height="23" fill="#c0c0c0"/><rect x="297" y="748" width="1" height="27" fill="#c0c0c0"/><rect x="301" y="748" width="1" height="31" fill="#c0c0c0"/><rect x="305" y="748" width="1" height="30" fill="#c0c0c0"/><rect x="309" y="748" width="1" height="30" fill="#c0c0c0"/><rect x="313" y="748" width="1" height="30" fill="#c0c0c0"/><rect x="317" y="748" width="1" height="30" fill="#c0c0c0"/><rect x="321" y="748" width="1" height="25" fill="#c0c0c0"/><rect x="325" y="748" width="1" height="21" fill="#c0c0c0"/><rect x="329" y="748" width="1" height="17" fill="#c0c0c0"/><rect x="333" y="748" width="1" height="15" fill="#c0c0c0"/><rect x="337" y="748" width="1" height="10" fill="#c0c0c0"/><rect x="341" y="748" width="1" height="6" fill="#c0c0c0"/><rect x="345" y="748" width="1" height="3" fill="#c0c0c0"/><rect x="349" y="748" width="1" height="1" fill="#c0c0c0"/><rect x="353" y="747" width="1" height="2" fill="#c0c0c0"/><rect x="357" y="748" width="1" height="1" fill="#c0c0c0"/><rect x="361" y="748" width="1" height="5" fill="#c0c0c0"/><rect x="365" y="748" width="1" height="5" fill="#c0c0c0"/><rect x="369" y="748" width="1" height="7" fill="#c0c0c0"/><rect x="373" y="748" width="1" height="10" fill="#c0c0c0"/><rect x="377" y="748" width="1" height="13" fill="#c0c0c0"/><rect x="381" y="748" width="1" height="22" fill="#c0c0c0"/><rect x="385" y="748" width="1" height="26" fill="#c0c0c0"/><rect x="389" y="748" width="1" height="30" fill="#c0c0c0"/><rect x="393" y="748" width="1" height="31" fill="#c0c0c0"/><rect x="397" y="748" width="1" height="28" fill="#c0c0c0"/><rect x="401" y="748" width="1" height="23" fill="#c0c0c0"/><rect x="405" y="748" width="1" height="23" fill="#c0c0c0"/><rect x="409" y="748" width="1" height="22" fill="#c0c0c0"/><rect x="413" y="748" width="1" height="23" fill="#c0c0c0"/><rect x="417" y="748" width="1" height="20" fill="#c0c0c0"/><rect x="421" y="748" width="1" height="20" fill="#c0c0c0"/><rect x="425" y="748" width="1" height="19" fill="#c0c0c0"/><rect x="429" y="748" width="1" height="15" fill="#c0c0c0"/><rect x="433" y="748" width="1" height="11" fill="#c0c0c0"/><rect x="437" y="748" width="1" height="8" fill="#c0c0c0"/><rect x="441" y="748" width="1" height="6" fill="#c0c0c0"/><rect x="445" y="748" width="1" height="6" fill="#c0c0c0"/><rect x="449" y="748" width="1" height="6" fill="#c0c0c0"/><rect x="453" y="748" width="1" height="9" fill="#c0c0c0"/><rect x="457" y="748" width="1" height="11" fill="#c0c0c0"/><rect x="461" y="748" width="1" height="14" fill="#c0c0c0"/><rect x="465" y="748" width="1" height="15" fill="#c0c0c0"/><rect x="469" y="748" width="1" height="17" fill="#c0c0c0"/><rect x="473" y="748" width="1" height="18" fill="#c0c0c0"/><rect x="477" y="748" width="1" height="17" fill="#c0c0c0"/><rect x="481" y="748" width="1" height="14" fill="#c0c0c0"/><rect x="485" y="748" width="1" height="11" fill="#c0c0c0"/><rect x="489" y="748" width="1" height="10" fill="#c0c0c0"/><rect x="493" y="748" width="1" height="10" fill="#c0c0c0"/><rect x="497" y="748" width="1" height="15" fill="#c0c0c0"/><rect x="501" y="748" width="1" height="16" fill="#c0c0c0"/><rect x="505" y="748" width="1" height="17" fill="#c0c0c0"/><rect x="509" y="748" width="1" height="15" fill="#c0c0c0"/><rect x="513" y="748" width="1" height="11" fill="#c0c0c0"/><rect x="517" y="748" width="1" height="5" fill="#c0c0c0"/><rect x="521" y="748" width="1" height="1" fill="#c0c0c0"/><rect x="525" y="740" width="1" height="9" fill="#c0c0c0"/><rect x="529" y="731" width="1" height="18" fill="#c0c0c0"/><rect x="533" y="723" width="1" height="26" fill="#c0c0c0"/><rect x="537" y="720" width="1" height="29" fill="#c0c0c0"/><rect x="541" y="717" width="1" height="32" fill="#c0c0c0"/><rect x="545" y="716" width="1" height="33" fill="#c0c0c0"/><rect x="549" y="718" width="1" height="31" fill="#c0c0c0"/><rect x="553" y="727" width="1" height="22" fill="#c0c0c0"/><rect x="557" y="731" width="1" height="18" fill="#c0c0c0"/><rect x="561" y="734" width="1" height="15" fill="#c0c0c0"/><rect x="565" y="739" width="1" height="10" fill="#c0c0c0"/><rect x="569" y="742" width="1" height="7" fill="#c0c0c0"/><rect x="573" y="739" width="1" height="10" fill="#c0c0c0"/><rect x="577" y="733" width="1" height="16" fill="#c0c0c0"/><rect x="581" y="725" width="1" height="24" fill="#c0c0c0"/><rect x="585" y="717" width="1" height="32" fill="#c0c0c0"/><rect x="589" y="712" width="1" height="37" fill="#c0c0c0"/><rect x="593" y="708" width="1" height="41" fill="#c0c0c0"/><rect x="597" y="707" width="1" height="42" fill="#c0c0c0"/><rect x="601" y="706" width="1" height="43" fill="#c0c0c0"/><rect x="605" y="706" width="1" height="43" fill="#c0c0c0"/><rect x="609" y="712" width="1" height="37" fill="#c0c0c0"/><rect x="613" y="718" width="1" height="31" fill="#c0c0c0"/><rect x="617" y="724" width="1" height="25" fill="#c0c0c0"/><rect x="621" y="729" width="1" height="20" fill="#c0c0c0"/><rect x="625" y="739" width="1" height="10" fill="#c0c0c0"/><rect x="629" y="746" width="1" height="3" fill="#c0c0c0"/><rect x="633" y="748" width="1" height="5" fill="#c0c0c0"/><rect x="637" y="748" width="1" height="10" fill="#c0c0c0"/><rect x="641" y="748" width="1" height="10" fill="#c0c0c0"/><rect x="645" y="748" width="1" height="9" fill="#c0c0c0"/><rect x="649" y="748" width="1" height="10" fill="#c0c0c0"/><rect x="653" y="748" width="1" height="8" fill="#c0c0c0"/><rect x="657" y="748" width="1" height="7" fill="#c0c0c0"/><rect x="661" y="748" width="1" height="12" fill="#c0c0c0"/><rect x="665" y="748" width="1" height="13" fill="#c0c0c0"/><rect x="669" y="748" width="1" height="14" fill="#c0c0c0"/><rect x="673" y="748" width="1" height="15" fill="#c0c0c0"/><rect x="677" y="748" width="1" height="16" fill="#c0c0c0"/><rect x="681" y="748" width="1" height="17" fill="#c0c0c0"/><rect x="685" y="748" width="1" height="22" fill="#c0c0c0"/><rect x="689" y="748" width="1" height="27" fill="#c0c0c0"/><rect x="693" y="748" width="1" height="30" fill="#c0c0c0"/><rect x="697" y="748" width="1" height="33" fill="#c0c0c0"/><rect x="701" y="748" width="1" height="37" fill="#c0c0c0"/><rect x="705" y="748" width="1" height="37" fill="#c0c0c0"/><rect x="709" y="748" width="1" height="37" fill="#c0c0c0"/><rect x="713" y="748" width="1" height="37" fill="#c0c0c0"/><rect x="717" y="748" width="1" height="43" fill="#c0c0c0"/><rect x="721" y="748" width="1" height="43" fill="#c0c0c0"/><rect x="725" y="748" width="1" height="41" fill="#c0c0c0"/><rect x="729" y="748" width="1" height="33" fill="#c0c0c0"/><rect x="733" y="748" width="1" height="28" fill="#c0c0c0"/><rect x="737" y="748" width="1" height="19" fill="#c0c0c0"/><rect x="741" y="748" width="1" height="15" fill="#c0c0c0"/><rect x="745" y="748" width="1" height="10" fill="#c0c0c0"/><rect x="749" y="748" width="1" height="7" fill="#c0c0c0"/><rect x="753" y="748" width="1" height="4" fill="#c0c0c0"/><rect x="757" y="748" width="1" height="4" fill="#c0c0c0"/><rect x="761" y="748" width="1" height="8" fill="#c0c0c0"/><rect x="765" y="748" width="1" height="13" fill="#c0c0c0"/><rect x="769" y="748" width="1" height="19" fill="#c0c0c0"/><rect x="773" y="748" width="1" height="22" fill="#c0c0c0"/><rect x="777" y="748" width="1" height="25" fill="#c0c0c0"/><rect x="781" y="748" width="1" height="27" fill="#c0c0c0"/><rect x="785" y="748" width="1" height="28" fill="#c0c0c0"/><rect x="789" y="748" width="1" height="28" fill="#c0c0c0"/><rect x="793" y="748" width="1" height="25" fill="#c0c0c0"/><rect x="797" y="748" width="1" height="21" fill="#c0c0c0"/><rect x="801" y="748" width="1" height="21" fill="#c0c0c0"/><rect x="805" y="748" width="1" height="22" fill="#c0c0c0"/><rect x="809" y="748" width="1" height="24" fill="#c0c0c0"/><rect x="813" y="748" width="1" height="26" fill="#c0c0c0"/><rect x="817" y="748" width="1" height="33" fill="#c0c0c0"/><rect x="821" y="748" width="1" height="40" fill="#c0c0c0"/><rect x="825" y="748" width="1" height="45" fill="#c0c0c0"/><rect x="829" y="748" width="1" height="49" fill="#c0c0c0"/><rect x="833" y="748" width="1" height="48" fill="#c0c0c0"/><rect x="837" y="748" width="1" height="43" fill="#c0c0c0"/><rect x="841" y="748" width="1" height="40" fill="#c0c0c0"/><rect x="845" y="748" width="1" height="38" fill="#c0c0c0"/><rect x="849" y="748" width="1" height="33" fill="#c0c0c0"/><rect x="853" y="748" width="1" height="32" fill="#c0c0c0"/><rect x="857" y="748" width="1" height="33" fill="#c0c0c0"/><rect x="861" y="748" width="1" height="27" fill="#c0c0c0"/><rect x="865" y="748" width="1" height="22" fill="#c0c0c0"/><rect x="869" y="748" width="1" height="19" fill="#c0c0c0"/><rect x="873" y="748" width="1" height="21" fill="#c0c0c0"/><rect x="877" y="748" width="1" height="18" fill="#c0c0c0"/><rect x="881" y="748" width="1" height="15" fill="#c0c0c0"/><rect x="885" y="748" width="1" height="14" fill="#c0c0c0"/><rect x="889" y="748" width="1" height="17" fill="#c0c0c0"/><rect x="893" y="748" width="1" height="18" fill="#c0c0c0"/><rect x="897" y="748" width="1" height="20" fill="#c0c0c0"/><rect x="901" y="748" width="1" height="21" fill="#c0c0c0"/><rect x="905" y="748" width="1" height="25" fill="#c0c0c0"/><rect x="909" y="748" width="1" height="30" fill="#c0c0c0"/><rect x="913" y="748" width="1" height="33" fill="#c0c0c0"/><rect x="917" y="748" width="1" height="35" fill="#c0c0c0"/><rect x="921" y="748" width="1" height="38" fill="#c0c0c0"/><rect x="925" y="748" width="1" height="38" fill="#c0c0c0"/><rect x="929" y="748" width="1" height="38" fill="#c0c0c0"/><rect x="933" y="748" width="1" height="33" fill="#c0c0c0"/><rect x="937" y="748" width="1" height="30" fill="#c0c0c0"/><rect x="941" y="748" width="1" height="27" fill="#c0c0c0"/><rect x="945" y="748" width="1" height="24" fill="#c0c0c0"/><rect x="949" y="748" width="1" height="24" fill="#c0c0c0"/><rect x="953" y="748" width="1" height="20" fill="#c0c0c0"/><rect x="957" y="748" width="1" height="15" fill="#c0c0c0"/><rect x="961" y="748" width="1" height="10" fill="#c0c0c0"/><rect x="965" y="748" width="1" height="5" fill="#c0c0c0"/><rect x="969" y="748" width="1" height="2" fill="#c0c0c0"/><rect x="973" y="747" width="1" height="2" fill="#c0c0c0"/><rect x="977" y="741" width="1" height="8" fill="#c0c0c0"/><rect x="981" y="733" width="1" height="16" fill="#c0c0c0"/><rect x="985" y="724" width="1" height="25" fill="#c0c0c0"/><rect x="989" y="717" width="1" height="32" fill="#c0c0c0"/><rect x="993" y="713" width="1" height="36" fill="#c0c0c0"/><rect x="997" y="711" width="1" height="38" fill="#c0c0c0"/><rect x="1001" y="712" width="1" height="37" fill="#c0c0c0"/><rect x="1005" y="714" width="1" height="35" fill="#c0c0c0"/><rect x="1009" y="718" width="1" height="31" fill="#c0c0c0"/><rect x="1013" y="721" width="1" height="28" fill="#c0c0c0"/><rect x="1017" y="723" width="1" height="26" fill="#c0c0c0"/><rect x="1021" y="723" width="1" height="26" fill="#c0c0c0"/><rect x="1025" y="722" width="1" height="27" fill="#c0c0c0"/><rect x="1029" y="720" width="1" height="29" fill="#c0c0c0"/><rect x="1033" y="717" width="1" height="32" fill="#c0c0c0"/><rect x="1037" y="716" width="1" height="33" fill="#c0c0c0"/><rect x="1041" y="716" width="1" height="33" fill="#c0c0c0"/><rect x="1045" y="723" width="1" height="26" fill="#c0c0c0"/><rect x="1049" y="728" width="1" height="21" fill="#c0c0c0"/><rect x="1053" y="735" width="1" height="14" fill="#c0c0c0"/><rect x="1057" y="743" width="1" height="6" fill="#c0c0c0"/><rect x="1061" y="748" width="1" height="1" fill="#c0c0c0"/><rect x="1065" y="748" width="1" height="5" fill="#c0c0c0"/><rect x="1069" y="748" width="1" height="9" fill="#c0c0c0"/><rect x="1073" y="748" width="1" height="13" fill="#c0c0c0"/><rect x="1077" y="748" width="1" height="15" fill="#c0c0c0"/><rect x="1081" y="748" width="1" height="15" fill="#c0c0c0"/><rect x="1085" y="748" width="1" height="13" fill="#c0c0c0"/><rect x="1089" y="748" width="1" height="8" fill="#c0c0c0"/><rect x="1093" y="748" width="1" height="6" fill="#c0c0c0"/><rect x="1097" y="748" width="1" height="5" fill="#c0c0c0"/><rect x="1101" y="748" width="1" height="4" fill="#c0c0c0"/><rect x="1105" y="748" width="1" height="5" fill="#c0c0c0"/><rect x="1109" y="748" width="1" height="8" fill="#c0c0c0"/><rect x="1113" y="748" width="1" height="10" fill="#c0c0c0"/><rect x="1117" y="748" width="1" height="13" fill="#c0c0c0"/><rect x="1121" y="748" width="1" height="15" fill="#c0c0c0"/><rect x="1125" y="748" width="1" height="17" fill="#c0c0c0"/><rect x="1129" y="748" width="1" height="15" fill="#c0c0c0"/><rect x="1133" y="748" width="1" height="15" fill="#c0c0c0"/><rect x="1137" y="748" width="1" height="11" fill="#c0c0c0"/><rect x="1141" y="748" width="1" height="5" fill="#c0c0c0"/><rect x="1145" y="748" width="1" height="2" fill="#c0c0c0"/><rect x="1149" y="746" width="1" height="3" fill="#c0c0c0"/><rect x="1153" y="747" width="1" height="2" fill="#c0c0c0"/><rect x="1157" y="747" width="1" height="2" fill="#c0c0c0"/><rect x="1161" y="746" width="1" height="3" fill="#c0c0c0"/><rect x="1165" y="744" width="1" height="5" fill="#c0c0c0"/><rect x="1169" y="742" width="1" height="7" fill="#c0c0c0"/><rect x="1173" y="738" width="1" height="11" fill="#c0c0c0"/><rect x="1177" y="734" width="1" height="15" fill="#c0c0c0"/><rect x="1181" y="732" width="1" height="17" fill="#c0c0c0"/><rect x="1185" y="730" width="1" height="19" fill="#c0c0c0"/><rect x="1189" y="726" width="1" height="23" fill="#c0c0c0"/><rect x="1193" y="726" width="1" height="23" fill="#c0c0c0"/><rect x="1197" y="727" width="1" height="22" fill="#c0c0c0"/><rect x="1201" y="731" width="1" height="18" fill="#c0c0c0"/><rect x="1205" y="735" width="1" height="14" fill="#c0c0c0"/><rect x="1209" y="737" width="1" height="12" fill="#c0c0c0"/><rect x="1213" y="739" width="1" height="10" fill="#c0c0c0"/><rect x="1217" y="740" width="1" height="9" fill="#c0c0c0"/><rect x="1221" y="741" width="1" height="8" fill="#c0c0c0"/><rect x="1225" y="736" width="1" height="13" fill="#c0c0c0"/><rect x="1229" y="730" width="1" height="19" fill="#c0c0c0"/><rect x="1233" y="725" width="1" height="24" fill="#c0c0c0"/><rect x="1237" y="719" width="1" height="30" fill="#c0c0c0"/><rect x="1241" y="715" width="1" height="34" fill="#c0c0c0"/><rect x="1245" y="714" width="1" height="35" fill="#c0c0c0"/><rect x="1249" y="717" width="1" height="32" fill="#c0c0c0"/><rect x="1253" y="719" width="1" height="30" fill="#c0c0c0"/><rect x="1257" y="719" width="1" height="30" fill="#c0c0c0"/><rect x="1261" y="723" width="1" height="26" fill="#c0c0c0"/><rect x="1265" y="729" width="1" height="20" fill="#c0c0c0"/><rect x="1269" y="735" width="1" height="14" fill="#c0c0c0"/><rect x="1273" y="739" width="1" height="10" fill="#c0c0c0"/><rect x="1277" y="741" width="1" height="8" fill="#c0c0c0"/><rect x="1281" y="742" width="1" height="7" fill="#c0c0c0"/><rect x="1285" y="744" width="1" height="5" fill="#c0c0c0"/><rect x="1289" y="743" width="1" height="6" fill="#c0c0c0"/><rect x="1293" y="743" width="1" height="6" fill="#c0c0c0"/><rect x="1297" y="747" width="1" height="2" fill="#c0c0c0"/><rect x="1301" y="748" width="1" height="3" fill="#c0c0c0"/></g>
<path class="ce" d="M639.5 732v2M545.5 733v2M987.5 744v2M643.5 737v2M541.5 738v2M1073.5 738v2M648.5 743v2M67.5 743v2M1077.5 744v2M557 723.5h2M1056 723.5h2M1251 723.5h2M1274 723.5h1M19 731.5h3M55 731.5h1M580 731.5h3M638 731.5h1M998 731.5h1M1202 731.5h3M1216 731.5h1M1239 731.5h2M315 772.5h2M333 772.5h2M411 772.5h2M416 772.5h3M702 772.5h2M751 772.5h1M808 772.5h3M880 772.5h2M917 772.5h2M960 772.5h1M146 768.5h1M236 768.5h3M308 768.5h2M340 768.5h1M428 768.5h1M697 768.5h1M754 768.5h1M791 768.5h2M887 768.5h2M910 768.5h1M965 768.5h1M73 749.5h1M654 749.5h1M984 749.5h1M137 757.5h1M200 757.5h1M267 757.5h1M292 757.5h1M458 757.5h1M470 757.5h1M976 757.5h1M1094 757.5h3M1100 757.5h3M1106 757.5h2M1124 757.5h3M1148 757.5h2M1179 741.5h2M39 725.5h1M568 725.5h1M594 725.5h1M633 725.5h1M1003 725.5h1M721 783.5h1M737 783.5h1M863 783.5h1M62 737.5h1M993 737.5h1M1293 737.5h2M97 750.5h1M131 750.5h1M532 750.5h1M655 750.5h1M983 750.5h1M1082 750.5h1M195 760.5h1M226 760.5h1M296 760.5h2M350 760.5h1M388 760.5h1M446 760.5h1M477 760.5h2M512 760.5h3M683 760.5h2M778 760.5h1M154 775.5h1M176 775.5h1M707 775.5h1M822 775.5h1M875 775.5h1M922 775.5h2M142 763.5h1M346 763.5h1M392 763.5h1M440 763.5h1M689 763.5h2M760 763.5h1M784 763.5h1M970 763.5h1M15 732.5h1M56 732.5h1M546 732.5h1M997 732.5h1M1067 732.5h1M1196 732.5h3M1220 732.5h2M1238 732.5h1M1286 732.5h1M141 762.5h1M260 762.5h2M441 762.5h2M761 762.5h1M971 762.5h1M107 746.5h2M126 746.5h2M535 746.5h1M1078 746.5h1M206 755.5h1M218 755.5h1M358 755.5h1M381 755.5h2M525 755.5h2M660 755.5h2M978 755.5h1M1088 755.5h2M1154 755.5h1M605 716.5h1M1015 716.5h1M1019 716.5h3M556 724.5h1M562 724.5h3M1250 724.5h1M1275 724.5h2M136 756.5h1M201 756.5h2M219 756.5h2M268 756.5h1M290 756.5h2M356 756.5h2M459 756.5h2M464 756.5h3M524 756.5h1M665 756.5h3M977 756.5h1M1090 756.5h1M1108 756.5h1M1112 756.5h3M1118 756.5h3M1150 756.5h1M540 740.5h1M1074 740.5h1M1299 740.5h1M182 771.5h2M314 771.5h1M410 771.5h1M422 771.5h1M701 771.5h1M802 771.5h3M882 771.5h1M916 771.5h1M32 727.5h2M49 727.5h2M551 727.5h1M635 727.5h1M1001 727.5h1M1062 727.5h1M1245 727.5h2M1280 727.5h1M31 728.5h1M51 728.5h1M550 728.5h1M574 728.5h1M588 728.5h1M1063 728.5h1M1244 728.5h1M1281 728.5h1M153 774.5h1M177 774.5h2M320 774.5h3M326 774.5h3M749 774.5h1M820 774.5h2M876 774.5h1M958 774.5h1M196 759.5h1M224 759.5h2M351 759.5h1M387 759.5h1M447 759.5h2M476 759.5h1M518 759.5h1M677 759.5h3M766 759.5h3M774 759.5h1M1136 759.5h3M1142 759.5h2M598 722.5h2M1055 722.5h1M725 785.5h3M731 785.5h2M839 785.5h2M147 769.5h1M242 769.5h3M250 769.5h1M310 769.5h1M338 769.5h2M404 769.5h1M886 769.5h1M911 769.5h2M964 769.5h1M600 721.5h1M630 721.5h1M1007 721.5h1M1050 721.5h2M1256 721.5h2M1269 721.5h2M604 717.5h1M1013 717.5h2M1025 717.5h3M1031 717.5h3M72 748.5h1M101 748.5h2M653 748.5h1M1166 748.5h2M194 761.5h1M262 761.5h1M298 761.5h1M482 761.5h3M488 761.5h3M494 761.5h3M500 761.5h3M506 761.5h3M685 761.5h1M762 761.5h1M779 761.5h2M972 761.5h1M138 758.5h1M266 758.5h1M352 758.5h1M386 758.5h1M452 758.5h3M471 758.5h2M519 758.5h2M671 758.5h3M772 758.5h2M1130 758.5h3M1144 758.5h1M1 734.5h3M1069 734.5h1M1226 734.5h3M1232 734.5h2M158 777.5h1M171 777.5h2M744 777.5h2M826 777.5h2M928 777.5h1M952 777.5h1M1037 718.5h3M1043 718.5h1M79 753.5h1M91 753.5h1M278 753.5h3M284 753.5h2M362 753.5h1M575 729.5h2M586 729.5h2M1282 729.5h1M739 781.5h1M832 781.5h1M940 781.5h3M37 726.5h2M43 726.5h3M552 726.5h1M569 726.5h2M592 726.5h2M634 726.5h1M1002 726.5h1M1061 726.5h1M189 765.5h1M231 765.5h1M256 765.5h1M304 765.5h1M344 765.5h1M394 765.5h1M435 765.5h2M786 765.5h1M898 765.5h3M148 770.5h1M184 770.5h1M248 770.5h2M405 770.5h2M423 770.5h2M796 770.5h3M83 754.5h3M89 754.5h2M207 754.5h2M212 754.5h3M272 754.5h3M286 754.5h1M380 754.5h1M659 754.5h1M1155 754.5h2M850 789.5h3M25 730.5h3M1208 730.5h3M1214 730.5h2M63 738.5h1M992 738.5h1M1185 738.5h2M715 780.5h1M868 780.5h1M934 780.5h3M946 780.5h1M7 733.5h3M13 733.5h2M57 733.5h1M996 733.5h1M1068 733.5h1M1222 733.5h1M1234 733.5h1M1287 733.5h2M114 743.5h2M988 743.5h1M143 764.5h1M190 764.5h1M230 764.5h1M302 764.5h2M345 764.5h1M393 764.5h1M691 764.5h1M785 764.5h1M254 767.5h1M399 767.5h2M429 767.5h2M696 767.5h1M755 767.5h1M790 767.5h1M966 767.5h1M844 787.5h3M858 787.5h1M164 779.5h3M713 779.5h2M869 779.5h1M947 779.5h2M152 773.5h1M332 773.5h1M750 773.5h1M814 773.5h3M959 773.5h1M159 778.5h2M170 778.5h1M743 778.5h1M828 778.5h1M870 778.5h1M929 778.5h2M733 784.5h1M838 784.5h1M862 784.5h1M628 719.5h1M1009 719.5h1M1044 719.5h2M1262 719.5h3M95 751.5h2M132 751.5h1M368 751.5h3M531 751.5h1M982 751.5h1M1083 751.5h1M1161 751.5h2M606 715.5h1M624 715.5h1M188 766.5h1M232 766.5h1M255 766.5h1M398 766.5h1M434 766.5h1M695 766.5h1M756 766.5h1M892 766.5h3M904 766.5h3M616 711.5h2M61 736.5h1M1190 736.5h1M1292 736.5h1M77 752.5h2M133 752.5h1M363 752.5h2M374 752.5h3M530 752.5h1M1084 752.5h1M1160 752.5h1M71 747.5h1M103 747.5h1M1168 747.5h1M708 776.5h2M874 776.5h1M924 776.5h1M953 776.5h2M113 744.5h1M119 744.5h3M537 744.5h1M1173 744.5h2M644 739.5h1M991 739.5h1M1184 739.5h1M1298 739.5h1M611 712.5h2M618 712.5h1M629 720.5h1M1008 720.5h1M1049 720.5h1M1258 720.5h1M1268 720.5h1M719 782.5h2M738 782.5h1M833 782.5h2M864 782.5h1M856 788.5h2M610 713.5h1M109 745.5h1M125 745.5h1M536 745.5h1M649 745.5h1M1172 745.5h1M66 742.5h1M1178 742.5h1M622 714.5h2M1191 735.5h2" stroke="#ff0000" stroke-width="1" fill="none"/>
<g class="ce">
<rect x="0" y="823" width="1678" height="1" fill="#e0e0e0"/>
<rect x="0" y="824" width="1678" height="21" fill="#f0f0f0"/>
<rect x="0" y="825" width="1678" height="1" fill="#000"/>
<rect x="3" y="824" width="102" height="19" fill="#fff"/>
<rect x="2" y="825" width="1" height="19" fill="#000"/>
<rect x="105" y="825" width="1" height="19" fill="#000"/>
<rect x="2" y="843" width="104" height="1" fill="#000"/>
<rect x="3" y="844" width="104" height="1" fill="#888"/>
<rect x="206" y="828" width="1" height="14" fill="#6a6a6a"/>
<rect x="310" y="828" width="1" height="14" fill="#6a6a6a"/>
<rect x="414" y="828" width="1" height="14" fill="#6a6a6a"/>
<rect x="518" y="828" width="1" height="14" fill="#6a6a6a"/>
<rect x="622" y="828" width="1" height="14" fill="#6a6a6a"/>
<rect x="714" y="828" width="1" height="14" fill="#6a6a6a"/>
</g>
<text class="tab" style="fill:#000;stroke:#000;stroke-width:0.2px;font-size:11.9px" transform="translate(14.3,840) scale(1,1.03)">EURUSD,Daily</text>
<text class="tab" transform="translate(116,840) scale(1,1.03)">USDCHF,Daily</text>
<text class="tab" transform="translate(217,840) scale(1,1.03)">AUDUSD,Daily</text>
<text class="tab" transform="translate(321.5,840) scale(1,1.03)">USDCAD,Daily</text>
<text class="tab" transform="translate(424,840) scale(1,1.03)">USDCNH,Daily</text>
<text class="tab" transform="translate(530,840) scale(1,1.03)">EURUSD,Daily</text>
<text class="tab" transform="translate(634,840) scale(1,1.03)">GBPUSD,H4</text>
<path d="M1657 830 L1657 838 L1653 834 Z" fill="#a0a0a0"/><path d="M1672 830 L1672 838 L1676 834 Z" fill="#a0a0a0"/>
</svg></body></html>
